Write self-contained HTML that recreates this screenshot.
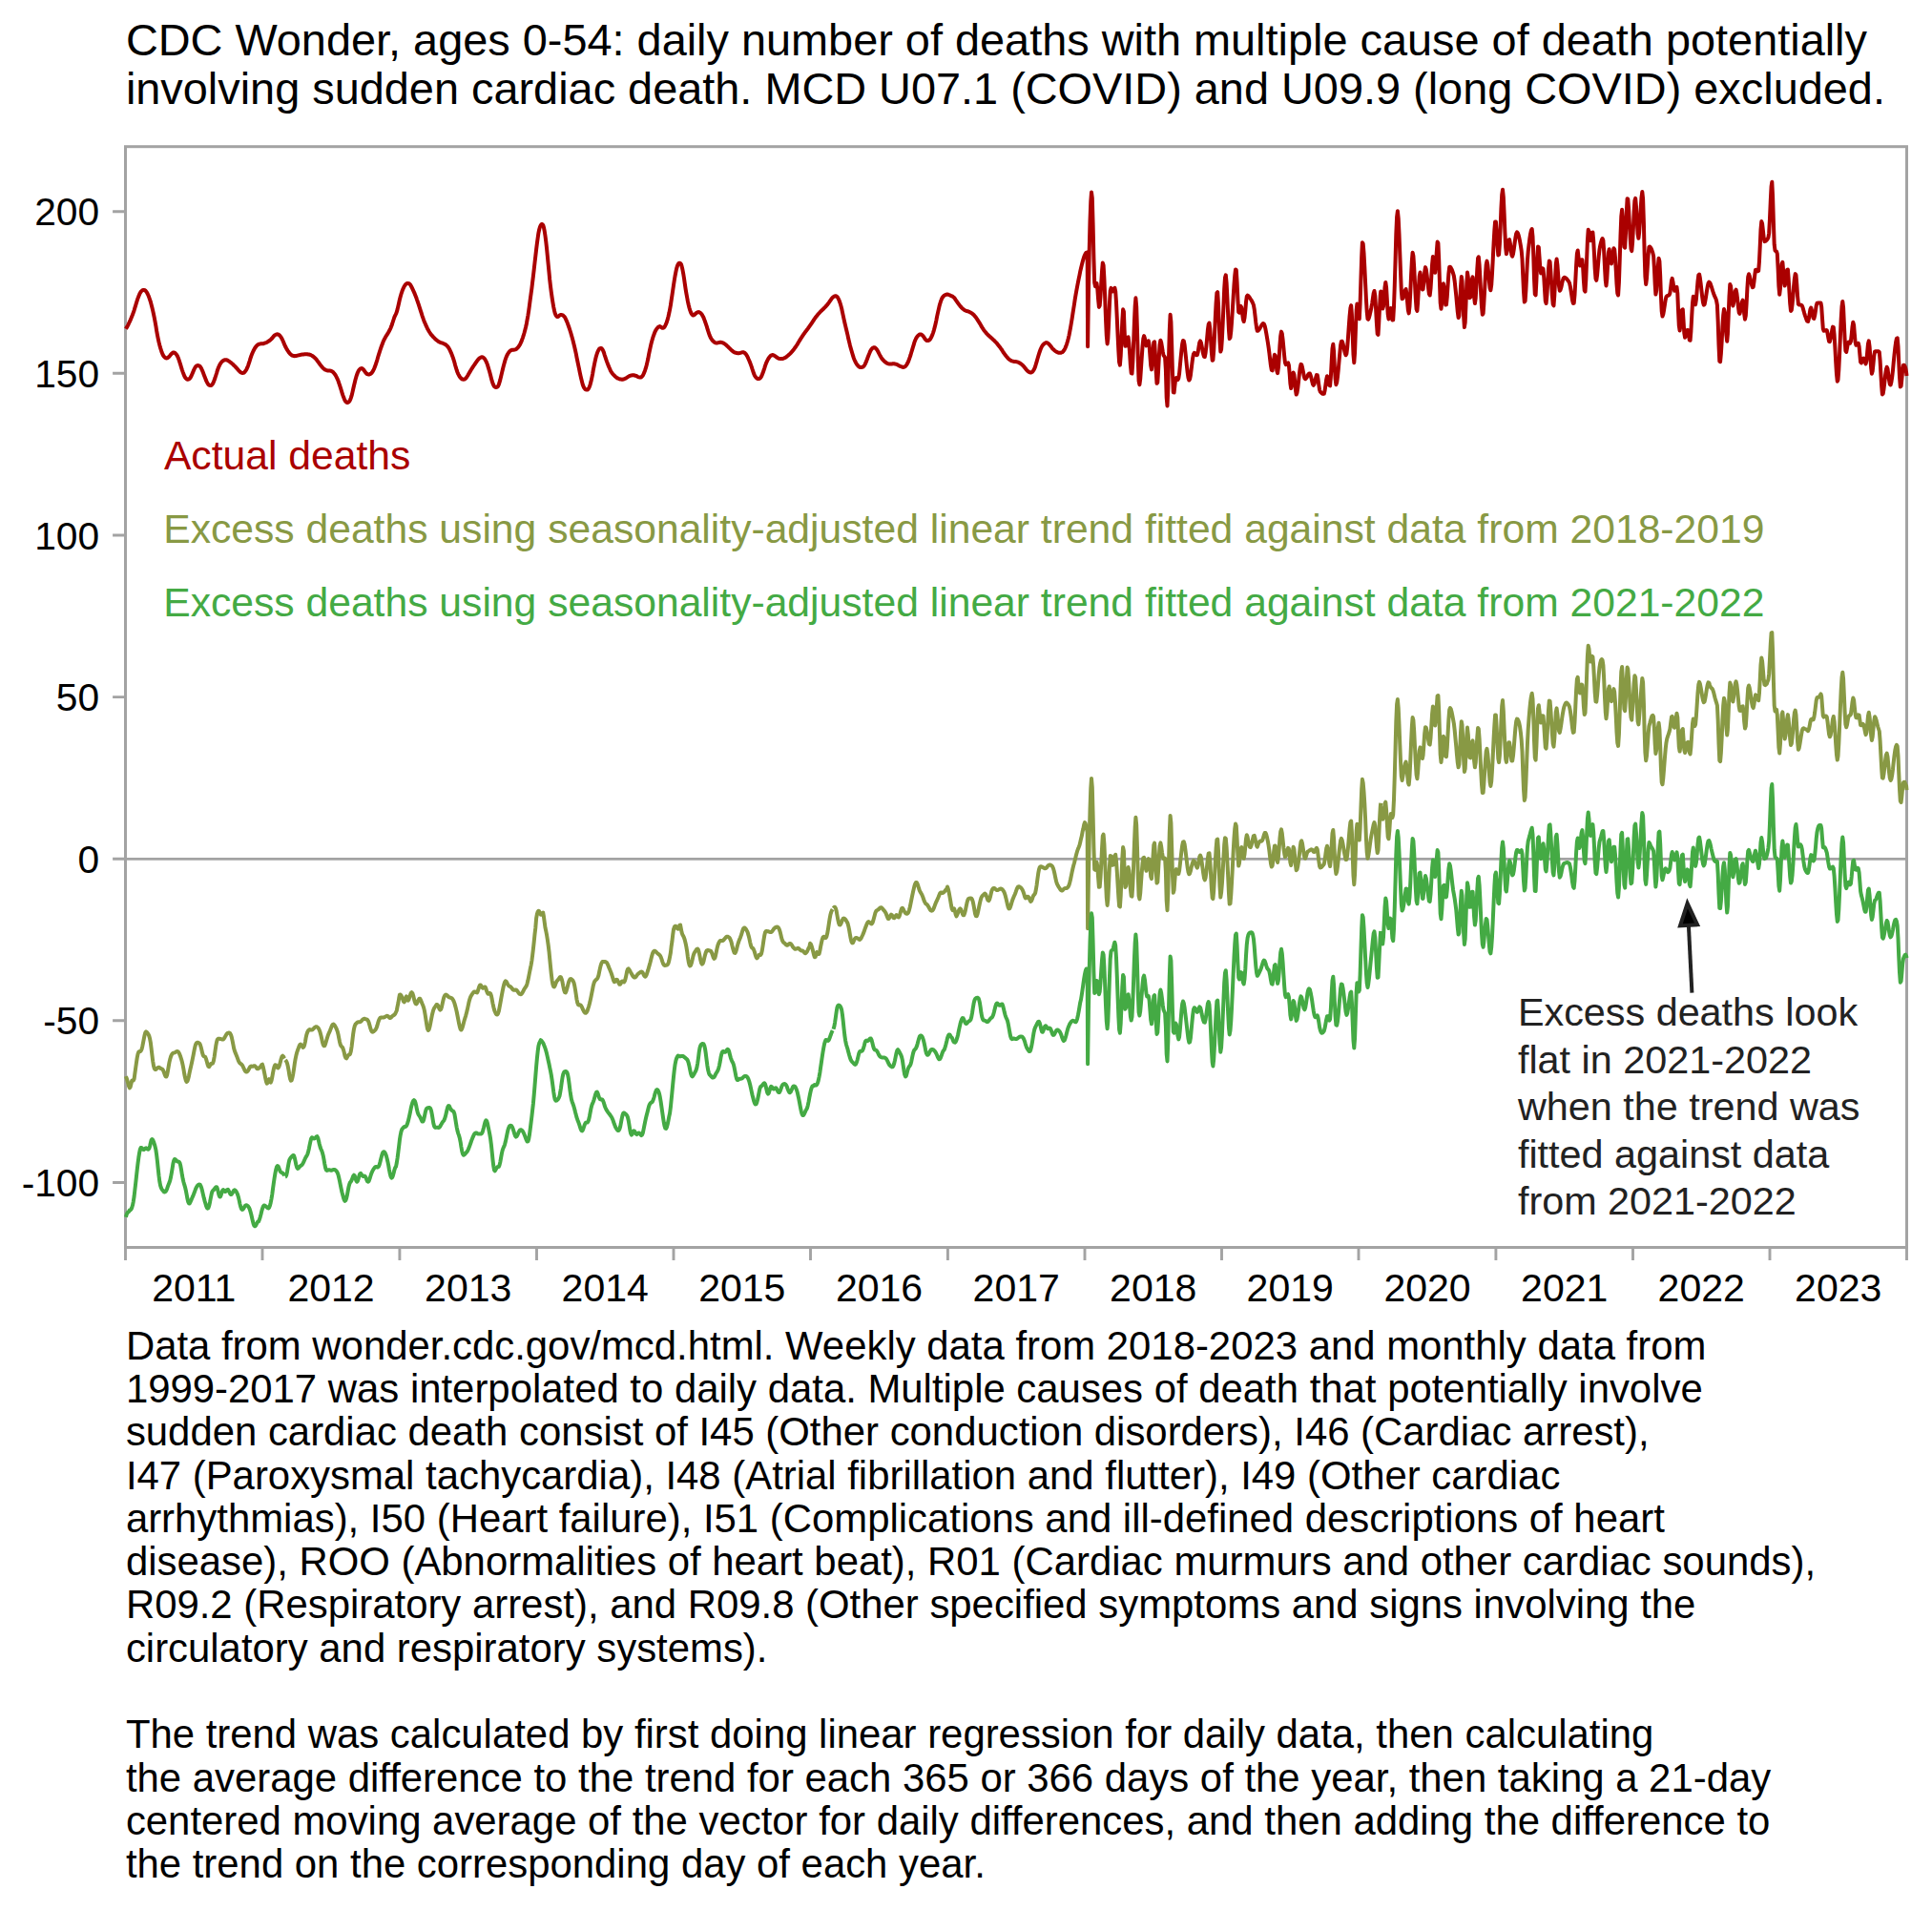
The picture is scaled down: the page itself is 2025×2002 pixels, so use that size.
<!DOCTYPE html>
<html lang="en"><head><meta charset="utf-8"><title>CDC Wonder sudden cardiac death chart</title><style>html,body{margin:0;padding:0;background:#fff}</style></head><body>
<svg width="2025" height="2002" viewBox="0 0 2025 2002" style="display:block;font-family:'Liberation Sans',Arial,Helvetica,sans-serif">
<rect width="2025" height="2002" fill="#fff"/>
<g font-size="46.86" fill="#000"><text x="131.9" y="58.4">CDC Wonder, ages 0-54: daily number of deaths with multiple cause of death potentially</text>
<text x="131.9" y="108.6">involving sudden cardiac death. MCD U07.1 (COVID) and U09.9 (long COVID) excluded.</text></g>
<line x1="131.5" x2="1998.5" y1="900.3" y2="900.3" stroke="#a3a3a3" stroke-width="2.8"/>
<rect x="131.5" y="153.7" width="1867.0" height="1153.8" fill="none" stroke="#a3a3a3" stroke-width="3"/>
<path d="M131.9 344.7L132.7 343.4L133.5 342.1L134.3 340.6L135.0 339.0L135.8 337.3L136.6 335.6L137.4 333.7L138.2 331.8L139.0 329.8L139.8 327.6L140.6 325.3L141.3 322.9L142.1 320.3L142.9 317.7L143.7 315.1L144.5 312.7L145.3 310.6L146.1 308.7L146.8 307.2L147.6 305.9L148.4 305.0L149.2 304.4L150.0 304.0L150.8 303.9L151.6 304.1L152.3 304.5L153.1 305.3L153.9 306.5L154.7 308.0L155.5 309.8L156.3 311.8L157.1 314.1L157.9 316.5L158.6 319.3L159.4 322.3L160.2 325.6L161.0 329.2L161.8 333.2L162.6 337.4L163.4 341.8L164.1 346.4L164.9 350.9L165.7 354.9L166.5 358.5L167.3 361.7L168.1 364.6L168.9 367.1L169.6 369.3L170.4 371.2L171.2 372.7L172.0 373.8L172.8 374.6L173.6 375.2L174.4 375.4L175.2 375.3L175.9 375.0L176.7 374.3L177.5 373.5L178.3 372.6L179.1 371.6L179.9 370.7L180.7 370.0L181.4 369.6L182.2 369.5L183.0 369.7L183.8 370.3L184.6 371.1L185.4 372.3L186.2 373.8L187.0 375.6L187.7 377.7L188.5 380.2L189.3 382.7L190.1 385.3L190.9 387.8L191.7 390.1L192.5 392.2L193.2 394.0L194.0 395.5L194.8 396.6L195.6 397.3L196.4 397.7L197.2 397.7L198.0 397.4L198.7 396.9L199.5 396.0L200.3 394.6L201.1 392.8L201.9 390.9L202.7 388.9L203.5 387.1L204.3 385.6L205.0 384.4L205.8 383.6L206.6 383.2L207.4 383.1L208.2 383.2L209.0 383.6L209.8 384.2L210.5 385.3L211.3 386.8L212.1 388.6L212.9 390.6L213.7 392.7L214.5 394.8L215.3 396.8L216.0 398.7L216.8 400.4L217.6 401.9L218.4 403.0L219.2 403.7L220.0 404.0L220.8 404.1L221.6 403.8L222.3 403.1L223.1 402.0L223.9 400.4L224.7 398.3L225.5 396.0L226.3 393.5L227.1 391.0L227.8 388.5L228.6 386.3L229.4 384.3L230.2 382.6L231.0 381.2L231.8 380.0L232.6 379.1L233.4 378.4L234.1 377.9L234.9 377.5L235.7 377.3L236.5 377.2L237.3 377.3L238.1 377.5L238.9 377.9L239.6 378.4L240.4 378.9L241.2 379.5L242.0 380.1L242.8 380.7L243.6 381.4L244.4 382.1L245.1 382.9L245.9 383.6L246.7 384.4L247.5 385.3L248.3 386.2L249.1 387.1L249.9 388.1L250.7 388.9L251.4 389.6L252.2 390.2L253.0 390.6L253.8 390.9L254.6 390.9L255.4 390.7L256.2 390.2L256.9 389.4L257.7 388.3L258.5 386.9L259.3 385.2L260.1 383.1L260.9 380.7L261.7 378.3L262.4 375.9L263.2 373.5L264.0 371.4L264.8 369.5L265.6 367.7L266.4 366.2L267.2 364.8L268.0 363.7L268.7 362.7L269.5 362.0L270.3 361.3L271.1 360.9L271.9 360.6L272.7 360.4L273.5 360.3L274.2 360.3L275.0 360.3L275.8 360.2L276.6 360.0L277.4 359.7L278.2 359.4L279.0 359.1L279.8 358.7L280.5 358.3L281.3 357.8L282.1 357.3L282.9 356.7L283.7 356.0L284.5 355.3L285.3 354.4L286.0 353.5L286.8 352.5L287.6 351.7L288.4 351.1L289.2 350.6L290.0 350.4L290.8 350.3L291.5 350.5L292.3 350.9L293.1 351.6L293.9 352.5L294.7 353.7L295.5 355.1L296.3 356.7L297.1 358.5L297.8 360.4L298.2 361.3L298.6 362.2L299.0 363.0L299.4 363.8L300.2 365.3L301.0 366.7L301.8 367.9L302.6 369.0L303.3 370.0L304.1 370.9L304.9 371.6L305.7 372.2L306.5 372.7L307.3 373.0L308.1 373.1L308.8 373.2L309.6 373.1L310.4 372.9L311.2 372.8L312.0 372.6L312.8 372.4L313.6 372.2L314.4 372.0L315.1 371.8L315.9 371.7L316.7 371.6L317.5 371.5L318.3 371.4L319.1 371.3L319.9 371.3L320.6 371.2L321.4 371.3L322.2 371.3L323.0 371.4L323.8 371.5L324.6 371.7L325.4 371.9L326.1 372.3L326.9 372.7L327.7 373.2L328.5 373.8L329.3 374.5L330.1 375.2L330.9 376.0L331.7 376.9L332.4 377.9L333.2 378.9L334.0 380.0L334.8 381.1L335.6 382.2L336.4 383.2L337.2 384.2L337.9 385.1L338.7 385.9L339.5 386.6L340.3 387.2L341.1 387.7L341.9 388.0L342.7 388.3L343.5 388.4L344.2 388.5L345.0 388.5L345.8 388.6L346.6 388.7L347.4 389.0L348.2 389.4L349.0 389.9L349.7 390.7L350.5 391.6L351.3 392.7L352.1 394.1L352.9 395.6L353.7 397.3L354.5 399.2L355.2 401.3L356.0 403.6L356.8 406.1L357.6 408.7L358.4 411.4L359.2 413.9L360.0 416.1L360.8 418.1L361.5 419.6L362.3 420.8L363.1 421.6L363.9 422.0L364.7 421.9L365.5 421.4L366.3 420.5L367.0 419.1L367.8 417.2L368.6 414.7L369.4 411.4L370.2 407.8L371.0 404.2L371.8 401.0L372.5 398.0L373.3 395.2L374.1 392.7L374.9 390.5L375.7 388.8L376.5 387.6L377.3 386.8L378.1 386.3L378.8 386.1L379.6 386.2L380.4 386.8L381.2 387.7L382.0 388.8L382.8 390.0L383.6 391.0L384.3 391.7L385.1 392.2L385.9 392.5L386.7 392.5L387.5 392.3L388.3 391.9L389.1 391.3L389.9 390.5L390.6 389.4L391.4 388.0L392.2 386.3L393.0 384.2L393.8 382.0L394.6 379.6L395.4 377.1L396.1 374.5L396.9 371.9L397.7 369.3L398.5 366.8L399.3 364.5L400.1 362.3L400.9 360.2L401.6 358.3L402.4 356.5L403.2 354.9L404.0 353.5L404.8 352.1L405.6 350.9L406.4 349.6L407.2 348.3L407.9 347.0L408.7 345.5L409.5 343.8L410.3 341.8L411.1 339.5L411.9 337.0L412.7 334.5L413.4 332.3L414.2 330.6L415.0 329.1L415.8 327.0L416.6 324.1L417.4 320.8L418.2 317.3L418.9 314.0L419.7 310.9L420.5 308.2L421.3 305.8L422.1 303.6L422.9 301.8L423.7 300.2L424.5 299.0L425.2 298.1L426.0 297.4L426.8 297.0L427.6 296.9L428.4 297.1L429.2 297.5L430.0 298.4L430.7 299.5L431.5 301.0L432.3 302.6L433.1 304.3L433.9 306.1L434.7 307.9L435.5 309.9L436.3 311.9L437.0 314.1L437.8 316.3L438.6 318.7L439.4 321.1L440.2 323.6L441.0 326.1L441.8 328.5L442.5 330.9L443.3 333.2L444.1 335.4L444.9 337.4L445.7 339.3L446.5 341.1L447.3 342.8L448.0 344.4L448.8 345.8L449.6 347.2L450.4 348.5L451.2 349.7L452.0 350.8L452.8 351.7L453.6 352.6L454.3 353.4L455.1 354.2L455.9 355.0L456.7 355.7L457.5 356.4L458.3 357.0L459.1 357.6L459.8 358.1L460.6 358.5L461.4 358.9L462.2 359.2L463.0 359.4L463.8 359.7L464.6 360.0L465.3 360.3L466.1 360.7L466.9 361.1L467.7 361.7L468.5 362.4L469.3 363.3L470.1 364.4L470.9 365.7L471.6 367.1L472.4 368.8L473.2 370.6L474.0 372.7L474.8 374.9L475.6 377.4L476.4 380.0L477.1 382.7L477.9 385.4L478.7 388.0L479.5 390.2L480.3 392.1L481.1 393.6L481.9 394.9L482.7 395.9L483.4 396.7L484.2 397.3L485.0 397.6L485.8 397.7L486.6 397.6L487.4 397.2L488.2 396.6L488.9 395.7L489.7 394.5L490.5 393.2L491.3 391.8L492.1 390.4L492.9 389.1L493.7 387.8L494.4 386.6L495.2 385.4L496.0 384.2L496.8 383.0L497.6 381.8L498.4 380.6L499.2 379.5L500.0 378.4L500.7 377.4L501.5 376.5L502.3 375.7L503.1 375.1L503.9 374.6L504.7 374.3L505.5 374.3L506.2 374.5L507.0 375.1L507.8 375.9L508.6 377.1L509.4 378.6L510.2 380.4L511.0 382.5L511.7 384.9L512.5 387.5L513.3 390.3L514.1 393.3L514.9 396.4L515.7 399.4L516.5 401.9L517.3 403.7L518.0 404.9L518.8 405.6L519.6 406.0L520.4 406.0L521.2 405.7L522.0 404.8L522.8 403.2L523.5 400.9L524.3 398.1L525.1 394.8L525.9 391.4L526.7 388.0L527.5 384.7L528.3 381.7L529.1 378.9L529.8 376.5L530.6 374.4L531.4 372.5L532.2 371.0L533.0 369.7L533.8 368.7L534.6 367.9L535.3 367.4L536.1 367.0L536.9 366.8L537.7 366.7L538.5 366.7L539.3 366.6L540.1 366.4L540.8 366.0L541.6 365.5L542.4 364.7L543.2 363.8L544.0 362.8L544.8 361.5L545.6 359.9L546.4 358.2L547.1 356.3L547.9 354.1L548.7 351.7L549.5 349.0L550.3 346.0L551.1 342.8L551.9 339.2L552.6 335.2L553.4 330.8L554.2 325.6L555.0 319.7L555.8 313.6L556.6 307.7L557.4 301.9L558.1 296.0L558.9 289.5L559.7 282.6L560.5 275.4L561.3 268.4L562.1 261.5L562.9 255.1L563.7 249.2L564.4 244.3L565.2 240.5L566.0 237.8L566.8 236.0L567.6 235.1L568.4 235.1L569.2 235.9L569.9 238.2L570.7 242.0L571.5 247.2L572.3 253.5L573.1 260.8L573.9 269.0L574.7 277.4L575.5 285.5L576.2 293.0L577.0 299.9L577.8 306.2L578.6 311.9L579.4 317.0L580.2 321.6L581.0 325.5L581.7 328.3L582.5 330.3L583.3 331.5L584.1 332.0L584.9 331.9L585.7 331.3L586.5 330.6L587.2 330.2L588.0 329.9L588.8 330.0L589.6 330.3L590.4 330.8L591.2 331.6L592.0 332.6L592.8 334.0L593.5 335.6L594.3 337.4L595.1 339.5L595.9 341.7L596.7 344.0L597.5 346.5L598.3 349.0L599.0 351.5L599.8 354.3L600.6 357.2L601.4 360.4L602.2 363.7L603.0 367.2L603.8 370.9L604.5 374.6L605.3 378.5L606.1 382.4L606.9 386.2L607.7 390.1L608.5 393.8L609.3 397.3L610.1 400.5L610.8 403.2L611.6 405.3L612.4 406.8L613.2 407.8L614.0 408.4L614.8 408.6L615.6 408.5L616.3 408.0L617.1 407.0L617.9 405.2L618.7 402.8L619.5 399.8L620.3 396.1L621.1 392.1L621.8 387.9L622.6 383.8L623.4 379.8L624.2 376.2L625.0 373.1L625.8 370.5L626.6 368.4L627.4 366.8L628.1 365.7L628.9 365.1L629.7 364.9L630.5 365.2L631.3 366.1L632.1 367.5L632.9 369.4L633.6 371.8L634.4 374.2L635.2 376.6L636.0 378.9L636.8 381.0L637.6 383.1L638.4 385.0L639.2 386.8L639.9 388.4L640.7 389.8L641.5 391.0L642.3 392.0L643.1 392.9L643.9 393.7L644.7 394.5L645.4 395.1L646.2 395.7L647.0 396.2L647.8 396.7L648.6 397.0L649.4 397.3L650.2 397.5L650.9 397.6L651.7 397.7L652.5 397.7L653.3 397.5L654.1 397.3L654.9 397.0L655.7 396.6L656.5 396.1L657.2 395.6L658.0 395.1L658.8 394.6L659.6 394.1L660.4 393.8L661.2 393.5L662.0 393.4L662.7 393.3L663.5 393.3L664.3 393.3L665.1 393.5L665.9 393.7L666.7 393.9L667.5 394.3L668.2 394.7L669.0 395.1L669.8 395.4L670.6 395.6L671.4 395.6L672.2 395.2L673.0 394.5L673.8 393.5L674.5 392.1L675.3 390.4L676.1 388.2L676.9 385.7L677.7 382.7L678.5 379.4L679.3 375.8L680.0 371.9L680.8 368.0L681.6 364.3L682.4 360.8L683.2 357.7L684.0 354.9L684.8 352.4L685.6 350.2L686.3 348.3L687.1 346.6L687.9 345.3L688.7 344.1L689.5 343.3L690.3 342.6L691.1 342.2L691.8 342.1L692.6 342.6L693.4 343.3L694.2 343.8L695.0 343.8L695.8 343.4L696.6 342.4L697.3 341.2L698.1 339.6L698.9 337.5L699.7 334.9L700.5 331.8L701.3 328.3L702.1 324.3L702.9 319.9L703.6 315.1L704.4 309.9L705.2 304.5L706.0 299.0L706.8 293.8L707.6 289.0L708.4 284.9L709.1 281.6L709.9 278.9L710.7 277.0L711.5 276.0L712.3 275.8L713.1 275.9L713.9 276.9L714.6 279.1L715.4 282.5L716.2 286.8L717.0 291.8L717.8 297.4L718.6 302.9L719.4 307.7L720.2 312.0L720.9 315.9L721.7 319.5L722.5 322.7L723.3 325.4L724.1 327.5L724.9 329.1L725.7 330.1L726.4 330.5L727.2 330.3L728.0 329.8L728.8 329.0L729.6 328.2L730.4 327.7L731.2 327.3L732.0 327.1L732.7 327.2L733.5 327.5L734.3 328.1L735.1 328.9L735.9 330.0L736.7 331.4L737.5 333.0L738.2 334.9L739.0 337.0L739.8 339.3L740.6 341.7L741.4 344.3L742.2 346.9L743.0 349.3L743.7 351.4L744.5 353.2L745.3 354.7L746.1 356.0L746.9 357.0L747.7 357.8L748.5 358.5L749.3 359.0L750.0 359.3L750.8 359.4L751.6 359.4L752.4 359.3L753.2 359.1L754.0 358.9L754.8 358.8L755.5 358.8L756.3 358.9L757.1 359.1L757.9 359.5L758.7 359.9L759.5 360.4L760.3 361.0L761.0 361.6L761.8 362.3L762.6 363.1L763.4 363.8L764.2 364.6L765.0 365.4L765.8 366.2L766.6 366.9L767.3 367.6L768.1 368.2L768.9 368.7L769.7 369.2L770.5 369.6L771.3 369.8L772.1 370.0L772.8 370.2L773.6 370.2L774.4 370.2L775.2 370.1L776.0 369.9L776.8 369.6L777.6 369.4L778.4 369.2L779.1 369.2L779.9 369.5L780.7 370.0L781.5 370.8L782.3 371.9L783.1 373.2L783.9 374.8L784.6 376.5L785.4 378.3L786.2 380.3L787.0 382.4L787.8 384.7L788.6 387.2L789.4 389.5L790.1 391.6L790.9 393.4L791.7 394.8L792.5 395.8L793.3 396.5L794.1 396.9L794.9 397.0L795.7 396.9L796.4 396.6L797.2 395.8L798.0 394.6L798.8 392.9L799.6 390.8L800.4 388.5L801.2 386.1L801.9 383.8L802.7 381.6L803.5 379.6L804.3 377.9L805.1 376.4L805.9 375.1L806.7 374.0L807.4 373.2L808.2 372.6L809.0 372.2L809.8 372.1L810.6 372.2L811.4 372.6L812.2 373.1L813.0 373.7L813.7 374.3L814.5 374.8L815.3 375.3L816.1 375.7L816.9 375.9L817.7 376.1L818.5 376.1L819.2 376.1L820.0 376.0L820.8 375.8L821.6 375.5L822.4 375.1L823.2 374.7L824.0 374.2L824.8 373.6L825.5 373.0L826.3 372.4L827.1 371.6L827.9 370.9L828.7 370.1L829.5 369.2L830.3 368.3L831.0 367.4L831.8 366.4L832.6 365.4L833.4 364.3L834.2 363.2L835.0 362.0L835.8 360.8L836.5 359.5L837.3 358.2L838.1 356.9L838.9 355.6L839.7 354.3L840.5 353.1L841.3 351.9L842.1 350.8L842.8 349.7L843.6 348.6L844.4 347.5L845.2 346.5L846.0 345.4L846.8 344.4L847.6 343.3L848.3 342.2L849.1 341.1L849.9 340.0L850.7 338.8L851.5 337.6L852.3 336.4L853.1 335.3L853.8 334.1L854.6 333.0L855.4 331.9L856.2 330.9L857.0 329.9L857.8 329.0L858.6 328.1L859.4 327.3L860.1 326.5L860.9 325.8L861.7 325.0L862.5 324.3L863.3 323.5L864.1 322.7L864.9 321.9L865.6 321.1L866.4 320.2L867.2 319.3L868.0 318.2L868.8 317.2L869.6 316.0L870.4 314.9L871.2 313.8L871.9 312.7L872.7 311.9L873.1 311.5L873.5 311.1L874.3 310.6L875.1 310.3L875.9 310.3L876.7 310.5L877.4 311.1L878.2 312.1L879.0 313.6L879.8 315.5L880.6 317.8L881.4 320.5L882.2 323.5L882.9 326.9L883.7 330.6L884.5 334.3L885.3 338.0L886.1 341.4L886.9 344.7L887.7 348.0L888.5 351.4L889.2 354.8L890.0 358.1L890.8 361.4L891.6 364.4L892.4 367.3L893.2 370.0L894.0 372.6L894.7 374.9L895.5 377.0L896.3 378.8L897.1 380.3L897.9 381.6L898.7 382.7L899.5 383.6L900.2 384.3L901.0 384.8L901.8 385.0L902.6 385.1L903.4 385.0L904.2 384.7L905.0 384.2L905.8 383.4L906.5 382.1L907.3 380.5L908.1 378.6L908.9 376.5L909.7 374.3L910.5 372.2L911.3 370.3L912.0 368.5L912.8 367.0L913.6 365.9L914.4 365.0L915.2 364.5L916.0 364.2L916.8 364.3L917.5 364.7L918.3 365.4L919.1 366.5L919.9 367.8L920.7 369.3L921.5 370.9L922.3 372.4L923.1 373.8L923.8 375.1L924.6 376.2L925.4 377.1L926.2 378.0L927.0 378.7L927.8 379.4L928.6 380.0L929.3 380.5L930.1 380.9L930.9 381.2L931.7 381.4L932.5 381.5L933.3 381.5L934.1 381.4L934.9 381.4L935.6 381.3L936.4 381.3L937.2 381.3L938.0 381.4L938.8 381.6L939.6 381.9L940.4 382.2L941.1 382.6L941.9 383.1L942.7 383.5L943.5 383.9L944.3 384.2L945.1 384.5L945.9 384.7L946.6 384.9L947.4 384.8L948.2 384.5L949.0 383.9L949.8 383.0L950.6 381.8L951.4 380.3L952.2 378.6L952.9 376.6L953.7 374.4L954.5 372.0L955.3 369.3L956.1 366.6L956.9 363.9L957.7 361.3L958.4 358.9L959.2 356.8L960.0 355.0L960.8 353.6L961.6 352.5L962.4 351.6L963.2 351.0L963.9 350.6L964.7 350.5L965.5 350.6L966.3 351.0L967.1 351.7L967.9 352.7L968.7 353.9L969.5 355.2L970.2 356.1L971.0 356.8L971.8 357.1L972.6 357.1L973.4 356.8L974.2 356.3L975.0 355.4L975.7 354.2L976.5 352.7L977.3 350.9L978.1 348.6L978.9 346.1L979.7 343.1L980.5 339.7L981.3 336.1L982.0 332.4L982.8 328.7L983.6 325.1L984.4 321.6L985.2 318.6L986.0 316.0L986.8 313.9L987.5 312.3L988.3 311.2L989.1 310.3L989.9 309.6L990.7 309.1L991.5 308.8L992.3 308.6L993.0 308.6L993.8 308.7L994.6 309.0L995.4 309.3L996.2 309.7L997.0 310.1L997.8 310.4L998.6 310.8L999.3 311.4L1000.1 312.1L1000.9 313.1L1001.7 314.3L1002.5 315.5L1003.3 316.6L1004.1 317.7L1004.8 318.8L1005.6 319.8L1006.4 320.8L1007.2 321.7L1008.0 322.6L1008.8 323.4L1009.6 324.0L1010.3 324.6L1011.1 325.1L1011.9 325.5L1012.7 325.8L1013.5 326.1L1014.3 326.3L1015.1 326.5L1015.9 326.8L1016.6 327.2L1017.4 327.6L1018.2 328.1L1019.0 328.7L1019.8 329.3L1020.6 330.0L1021.4 330.8L1022.1 331.8L1022.9 332.8L1023.7 333.9L1024.5 335.1L1025.3 336.4L1026.1 337.6L1026.9 338.9L1027.7 340.2L1028.4 341.6L1029.2 342.9L1030.0 344.2L1030.8 345.4L1031.6 346.5L1032.4 347.5L1033.2 348.4L1033.9 349.3L1034.7 350.2L1035.5 351.0L1036.3 351.7L1037.1 352.5L1037.9 353.2L1038.7 353.8L1039.4 354.5L1040.2 355.2L1041.0 356.0L1041.8 356.7L1042.6 357.5L1043.4 358.4L1044.2 359.2L1045.0 360.0L1045.7 360.9L1046.5 361.9L1047.3 362.9L1048.1 363.9L1048.9 365.1L1049.7 366.2L1050.5 367.4L1051.2 368.6L1052.0 369.8L1052.8 370.9L1053.6 372.0L1054.4 373.0L1055.2 374.0L1056.0 374.9L1056.7 375.7L1057.5 376.4L1058.3 377.1L1059.1 377.6L1059.9 378.1L1060.7 378.4L1061.5 378.6L1062.3 378.8L1063.0 378.9L1063.8 379.0L1064.6 379.1L1065.4 379.2L1066.2 379.4L1067.0 379.6L1067.8 380.0L1068.5 380.4L1069.3 380.8L1070.1 381.4L1070.9 382.0L1071.7 382.7L1072.5 383.5L1073.3 384.4L1074.1 385.3L1074.8 386.3L1075.6 387.3L1076.4 388.2L1077.2 389.0L1078.0 389.6L1078.8 390.0L1079.6 390.4L1080.3 390.6L1081.1 390.4L1081.9 389.9L1082.7 389.0L1083.5 387.7L1084.3 386.2L1085.1 384.2L1085.8 381.8L1086.6 379.1L1087.4 376.3L1088.2 373.5L1089.0 370.9L1089.8 368.5L1090.6 366.3L1091.4 364.5L1092.1 363.0L1092.9 361.8L1093.7 360.9L1094.5 360.2L1095.3 359.7L1096.1 359.3L1096.9 359.1L1097.6 359.3L1098.4 359.7L1099.2 360.4L1100.0 361.3L1100.8 362.3L1101.6 363.3L1102.4 364.3L1103.1 365.3L1103.9 366.1L1104.7 366.8L1105.5 367.5L1106.3 368.1L1107.1 368.6L1107.9 369.0L1108.7 369.4L1109.4 369.7L1110.2 369.8L1111.0 369.8L1111.8 369.8L1112.6 369.5L1113.4 369.2L1114.2 368.5L1114.9 367.6L1115.7 366.4L1116.5 364.8L1117.3 362.9L1118.1 360.6L1118.9 358.0L1119.7 355.0L1120.5 351.6L1121.2 347.8L1122.0 343.6L1122.8 339.0L1123.6 334.1L1124.4 328.9L1125.2 323.8L1126.0 318.8L1126.7 313.9L1127.5 309.1L1128.3 304.6L1129.1 300.3L1129.9 296.1L1130.7 292.1L1131.5 288.3L1132.2 284.6L1133.0 281.2L1133.8 277.9L1134.6 274.7L1135.4 271.9L1136.2 269.3L1137.0 267.3L1137.8 265.7L1138.5 264.8L1139.3 264.5L1139.7 264.5L1140.1 363.2L1140.9 308.1L1141.7 264.4L1142.5 232.2L1143.3 211.2L1144.0 201.6L1144.8 207.5L1145.6 235.4L1146.4 270.6L1147.2 296.3L1148.0 300.1L1148.8 298.3L1149.5 297.1L1150.3 302.6L1151.1 313.6L1151.9 321.9L1152.7 320.4L1153.5 310.3L1154.3 296.4L1155.1 283.3L1155.8 275.5L1156.6 278.0L1157.4 292.0L1158.2 312.4L1159.0 334.1L1159.8 351.9L1160.6 360.4L1161.3 355.2L1162.1 339.0L1162.9 319.7L1163.7 305.1L1164.5 301.9L1165.3 303.7L1166.1 305.5L1166.9 305.1L1167.6 303.1L1168.4 301.8L1169.2 305.4L1170.0 317.2L1170.8 333.8L1171.6 351.9L1172.4 368.3L1173.1 379.7L1173.9 382.6L1174.7 372.9L1175.5 355.3L1176.3 336.7L1177.1 324.3L1177.9 326.6L1178.6 346.0L1179.4 362.7L1180.2 362.6L1181.0 358.1L1181.8 353.8L1182.6 353.4L1183.4 360.3L1184.2 371.4L1184.9 382.9L1185.7 391.1L1186.5 391.5L1187.3 379.8L1188.1 360.2L1188.9 338.5L1189.7 320.6L1190.4 312.3L1191.2 321.7L1192.0 347.4L1192.8 377.4L1193.6 399.4L1194.4 403.2L1195.2 397.3L1195.9 387.1L1196.7 375.0L1197.5 363.5L1198.3 355.1L1199.1 352.1L1199.9 354.7L1200.7 359.3L1201.5 362.4L1202.2 361.7L1203.0 359.1L1203.8 357.4L1204.6 361.8L1205.4 372.5L1206.2 383.2L1207.0 387.4L1207.7 380.9L1208.5 368.8L1209.3 358.7L1210.1 358.3L1210.9 371.3L1211.7 389.1L1212.5 401.8L1213.3 400.9L1214.0 389.6L1214.8 374.4L1215.6 361.4L1216.4 356.7L1217.2 359.1L1218.0 363.8L1218.8 368.9L1219.5 372.3L1220.3 373.5L1221.1 374.6L1221.9 388.0L1222.7 416.9L1223.5 425.6L1224.3 407.2L1225.0 376.6L1225.8 346.5L1226.6 329.8L1227.4 337.2L1228.2 362.6L1229.0 391.8L1229.8 411.2L1230.6 411.4L1231.3 404.7L1232.1 397.9L1232.9 396.0L1233.7 397.0L1234.5 397.9L1235.3 396.5L1236.1 391.4L1236.8 383.9L1237.6 375.3L1238.4 367.1L1239.2 360.5L1240.0 357.0L1240.8 357.5L1241.6 361.5L1242.3 367.9L1243.1 375.6L1243.9 383.5L1244.7 390.7L1245.5 396.1L1246.3 398.5L1247.1 397.4L1247.9 393.3L1248.6 387.4L1249.4 381.0L1250.2 375.1L1251.0 371.0L1251.8 369.8L1252.6 370.4L1253.4 371.4L1254.1 372.2L1254.9 372.1L1255.7 368.7L1256.5 363.5L1257.3 358.9L1258.1 357.4L1258.9 359.2L1259.6 362.7L1260.4 367.1L1261.2 371.1L1262.0 373.8L1262.8 374.0L1263.6 369.9L1264.4 362.6L1265.2 353.9L1265.9 345.8L1266.7 340.0L1267.5 338.6L1268.3 345.1L1269.1 357.0L1269.9 369.5L1270.7 377.8L1271.4 377.3L1272.2 367.4L1273.0 351.6L1273.8 333.7L1274.6 317.6L1275.4 307.1L1276.2 306.2L1277.0 318.6L1277.7 338.2L1278.5 357.3L1279.3 368.5L1280.1 366.3L1280.9 355.0L1281.7 338.3L1282.5 319.7L1283.2 302.8L1284.0 291.1L1284.8 288.3L1285.6 296.6L1286.4 312.3L1287.2 330.5L1288.0 346.4L1288.7 355.0L1289.5 353.7L1290.3 347.1L1291.1 336.6L1291.9 324.0L1292.7 310.8L1293.5 298.4L1294.3 288.4L1295.0 282.5L1295.8 283.0L1296.6 296.0L1297.4 314.1L1298.2 327.1L1299.0 327.7L1299.8 323.9L1300.5 320.9L1301.3 322.5L1302.1 328.4L1302.9 334.6L1303.7 337.0L1304.5 333.2L1305.3 325.4L1306.0 316.8L1306.8 310.7L1307.6 309.6L1308.4 310.2L1309.2 311.1L1310.0 312.2L1310.8 313.5L1311.6 314.7L1312.3 316.0L1313.1 317.6L1313.9 319.7L1314.7 324.1L1315.5 330.8L1316.3 337.9L1317.1 343.8L1317.8 346.8L1318.6 346.7L1319.4 345.9L1320.2 344.7L1321.0 343.3L1321.8 341.8L1322.6 340.5L1323.4 339.5L1324.1 339.0L1324.9 339.6L1325.7 341.8L1326.5 345.3L1327.3 349.6L1328.1 354.4L1328.9 359.3L1329.6 363.9L1330.4 369.9L1331.2 377.0L1332.0 383.5L1332.8 387.9L1333.6 388.3L1334.4 383.5L1335.1 376.7L1335.9 371.8L1336.7 372.6L1337.5 380.3L1338.3 388.6L1339.1 391.2L1339.9 385.5L1340.7 374.8L1341.4 362.6L1342.2 352.4L1343.0 347.6L1343.8 349.8L1344.6 356.2L1345.4 364.8L1346.2 373.4L1346.9 379.9L1347.7 382.2L1348.5 381.7L1349.3 380.9L1350.1 380.3L1350.9 382.9L1351.7 391.9L1352.4 401.9L1353.2 407.1L1354.0 403.6L1354.8 395.9L1355.6 390.4L1356.4 392.5L1357.2 400.4L1358.0 409.1L1358.7 413.6L1359.5 411.8L1360.3 406.5L1361.1 399.4L1361.9 391.9L1362.7 385.6L1363.5 381.9L1364.2 382.1L1365.0 385.0L1365.8 389.2L1366.6 393.4L1367.4 396.5L1368.2 397.2L1369.0 396.5L1369.8 395.3L1370.5 393.8L1371.3 392.4L1372.1 391.5L1372.9 391.6L1373.7 393.5L1374.5 396.6L1375.3 400.0L1376.0 402.7L1376.8 403.8L1377.6 402.5L1378.4 399.3L1379.2 395.7L1380.0 393.1L1380.8 393.3L1381.5 397.4L1382.3 403.4L1383.1 408.6L1383.9 410.7L1384.7 411.5L1385.5 412.2L1386.3 412.7L1387.1 412.9L1387.8 412.7L1388.6 409.3L1389.4 403.6L1390.2 397.8L1391.0 394.3L1391.8 395.1L1392.6 399.5L1393.3 403.9L1394.1 404.4L1394.9 394.5L1395.7 379.0L1396.5 365.3L1397.3 360.8L1398.1 368.8L1398.8 383.2L1399.6 397.0L1400.4 403.2L1401.2 400.9L1402.0 395.1L1402.8 387.0L1403.6 377.9L1404.4 369.1L1405.1 362.0L1405.9 357.9L1406.7 357.7L1407.5 359.9L1408.3 363.3L1409.1 367.2L1409.9 370.5L1410.6 372.3L1411.4 370.8L1412.2 364.0L1413.0 353.7L1413.8 342.0L1414.6 331.1L1415.4 323.1L1416.2 320.1L1416.9 330.0L1417.7 350.9L1418.5 371.5L1419.3 380.2L1420.1 369.0L1420.9 346.2L1421.7 325.0L1422.4 318.4L1423.2 325.0L1424.0 333.6L1424.8 334.2L1425.6 318.3L1426.4 293.2L1427.2 268.5L1427.9 254.2L1428.7 255.6L1429.5 265.2L1430.3 279.8L1431.1 296.6L1431.9 313.1L1432.7 326.5L1433.5 334.2L1434.2 334.8L1435.0 332.8L1435.8 329.7L1436.6 326.0L1437.4 322.4L1438.2 317.8L1439.0 312.1L1439.7 307.3L1440.5 305.0L1441.3 310.0L1442.1 323.3L1442.9 338.7L1443.7 349.9L1444.5 350.8L1445.2 339.5L1446.0 322.9L1446.8 309.0L1447.2 305.5L1447.6 305.5L1448.0 309.1L1448.4 314.6L1449.2 323.5L1450.0 321.1L1450.8 311.6L1451.5 301.2L1452.3 295.9L1453.1 301.6L1453.9 315.4L1454.7 329.1L1455.5 334.4L1456.3 330.5L1457.0 324.6L1457.8 323.0L1458.6 328.8L1459.4 335.6L1460.2 335.4L1461.0 321.7L1461.8 298.6L1462.6 271.5L1463.3 245.9L1464.1 227.4L1464.9 221.3L1465.7 228.9L1466.5 245.3L1467.3 266.4L1468.1 287.7L1468.8 304.7L1469.6 313.2L1470.4 312.8L1471.2 310.2L1472.0 307.0L1472.8 304.3L1473.6 303.0L1474.3 307.1L1475.1 316.3L1475.9 325.3L1476.7 328.4L1477.5 321.0L1478.3 305.8L1479.1 288.0L1479.9 272.6L1480.6 264.7L1481.4 268.1L1482.2 280.3L1483.0 296.6L1483.8 312.7L1484.6 324.0L1485.4 325.9L1486.1 316.8L1486.9 302.4L1487.7 289.7L1488.5 285.5L1489.3 289.9L1490.1 297.4L1490.9 303.4L1491.6 303.0L1492.4 294.8L1493.2 284.9L1494.0 280.1L1494.8 282.5L1495.6 288.2L1496.4 295.5L1497.2 302.7L1497.9 308.0L1498.7 309.4L1499.5 302.6L1500.3 289.9L1501.1 276.9L1501.9 268.9L1502.7 271.6L1503.4 281.6L1504.2 285.8L1505.0 277.6L1505.8 264.1L1506.6 253.6L1507.4 254.9L1508.2 272.5L1509.0 296.9L1509.7 317.5L1510.5 323.7L1511.3 316.0L1512.1 304.3L1512.9 297.3L1513.7 301.1L1514.5 311.1L1515.2 319.5L1516.0 319.3L1516.8 310.8L1517.6 298.4L1518.4 286.7L1519.2 279.9L1520.0 279.7L1520.7 280.6L1521.5 282.1L1522.3 284.1L1523.1 286.5L1523.9 289.4L1524.7 294.9L1525.5 302.5L1526.3 310.2L1527.0 318.2L1527.8 327.1L1528.6 333.1L1529.4 331.2L1530.2 317.6L1531.0 300.6L1531.8 289.9L1532.5 294.2L1533.3 311.2L1534.1 330.9L1534.9 343.0L1535.7 337.9L1536.5 318.4L1537.3 296.8L1538.0 285.5L1538.8 290.6L1539.6 302.6L1540.4 312.3L1541.2 311.6L1542.0 302.6L1542.8 292.9L1543.6 290.4L1544.3 299.0L1545.1 311.2L1545.9 318.1L1546.7 312.6L1547.5 298.5L1548.3 282.2L1549.1 270.5L1549.8 269.3L1550.6 277.8L1551.4 291.9L1552.2 307.7L1553.0 321.6L1553.8 329.7L1554.6 328.6L1555.3 318.7L1556.1 304.2L1556.9 289.1L1557.7 277.5L1558.5 273.6L1559.3 277.5L1560.1 285.5L1560.9 294.6L1561.6 301.8L1562.4 304.3L1563.2 298.8L1564.0 286.7L1564.8 271.1L1565.6 254.8L1566.4 240.9L1567.1 232.4L1567.9 232.5L1568.7 242.9L1569.5 257.0L1570.3 267.4L1571.1 266.9L1571.9 255.4L1572.7 237.8L1573.4 219.1L1574.2 204.4L1575.0 198.8L1575.8 206.4L1576.6 223.5L1577.4 243.5L1578.2 259.9L1578.9 266.2L1579.7 263.0L1580.5 256.9L1581.3 251.7L1582.1 251.0L1582.9 255.3L1583.7 261.7L1584.4 267.2L1585.2 268.7L1586.0 266.2L1586.8 261.2L1587.6 255.1L1588.4 249.2L1589.2 244.9L1590.0 243.3L1590.7 244.1L1591.5 246.1L1592.3 249.1L1593.1 253.0L1593.9 257.7L1594.7 262.9L1595.5 271.6L1596.2 287.9L1597.0 305.3L1597.8 316.6L1598.6 315.6L1599.4 303.9L1600.2 287.6L1601.0 272.5L1601.7 263.8L1602.5 256.8L1603.3 250.4L1604.1 245.1L1604.9 241.5L1605.7 240.0L1606.5 248.0L1607.3 268.3L1608.0 291.6L1608.8 308.3L1609.6 309.4L1610.4 294.1L1611.2 273.3L1612.0 258.6L1612.8 259.2L1613.5 269.2L1614.3 280.6L1615.1 286.5L1615.9 284.6L1616.7 281.3L1617.5 281.9L1618.3 291.3L1619.1 304.7L1619.8 315.7L1620.6 318.0L1621.4 309.9L1622.2 296.2L1623.0 282.2L1623.8 273.6L1624.6 274.6L1625.3 283.6L1626.1 296.6L1626.9 309.6L1627.7 318.9L1628.5 320.4L1629.3 309.5L1630.1 292.2L1630.8 276.8L1631.6 271.6L1632.4 277.7L1633.2 288.9L1634.0 299.8L1634.8 304.8L1635.6 303.7L1636.4 301.0L1637.1 297.5L1637.9 294.1L1638.7 291.6L1639.5 290.8L1640.3 291.0L1641.1 291.4L1641.9 292.1L1642.6 292.9L1643.4 293.9L1644.2 295.1L1645.0 296.6L1645.8 300.1L1646.6 305.0L1647.4 310.3L1648.1 314.9L1648.9 317.9L1649.7 317.8L1650.5 309.1L1651.3 294.2L1652.1 278.3L1652.9 266.0L1653.7 262.5L1654.4 268.5L1655.2 276.5L1656.0 278.4L1656.8 275.5L1657.6 272.3L1658.4 272.3L1659.2 281.0L1659.9 293.9L1660.7 304.4L1661.5 305.6L1662.3 292.9L1663.1 272.6L1663.9 252.6L1664.7 240.8L1665.5 242.5L1666.2 249.5L1667.0 252.3L1667.8 248.6L1668.6 243.8L1669.4 243.5L1670.2 252.3L1671.0 266.7L1671.7 281.7L1672.5 292.2L1673.3 293.8L1674.1 288.2L1674.9 278.9L1675.7 269.0L1676.5 261.5L1677.2 257.6L1678.0 254.2L1678.8 251.5L1679.6 250.0L1680.4 252.0L1681.2 263.8L1682.0 280.0L1682.8 294.1L1683.5 299.5L1684.3 292.2L1685.1 277.9L1685.9 264.9L1686.7 261.3L1687.5 266.9L1688.3 274.2L1689.0 276.4L1689.8 272.1L1690.6 265.3L1691.4 260.3L1692.2 261.4L1693.0 270.4L1693.8 283.8L1694.5 297.5L1695.3 307.4L1696.1 309.4L1696.9 296.5L1697.7 273.2L1698.5 247.4L1699.3 227.0L1700.1 219.8L1700.8 228.8L1701.6 245.3L1702.4 259.0L1703.2 259.6L1704.0 244.1L1704.8 223.1L1705.6 208.2L1706.3 208.7L1707.1 219.1L1707.9 234.3L1708.7 249.7L1709.5 260.8L1710.3 263.1L1711.1 254.3L1711.9 239.0L1712.6 222.5L1713.4 210.4L1714.2 207.9L1715.0 217.1L1715.8 231.8L1716.6 245.1L1717.4 249.8L1718.1 244.1L1718.9 232.5L1719.7 218.9L1720.5 207.0L1721.3 200.9L1722.1 208.5L1722.9 233.4L1723.6 264.3L1724.4 289.7L1725.2 298.1L1726.0 291.8L1726.8 279.6L1727.6 267.0L1728.4 259.0L1729.2 258.5L1729.9 259.3L1730.7 260.6L1731.5 262.6L1732.3 265.0L1733.1 268.2L1733.9 280.6L1734.7 297.9L1735.4 308.5L1736.2 304.7L1737.0 292.9L1737.8 279.4L1738.6 270.8L1739.4 273.8L1740.2 289.3L1740.9 309.5L1741.7 326.2L1742.5 331.6L1743.3 329.3L1744.1 324.8L1744.9 319.4L1745.7 314.3L1746.5 311.1L1747.2 310.3L1748.0 309.9L1748.8 309.6L1749.6 309.1L1750.4 307.3L1751.2 300.9L1752.0 294.1L1752.7 291.9L1753.5 295.6L1754.3 301.3L1755.1 304.8L1755.9 304.0L1756.7 302.1L1757.5 300.9L1758.3 307.4L1759.0 324.6L1759.8 341.2L1760.6 346.5L1761.4 341.1L1762.2 332.2L1763.0 324.8L1763.8 324.4L1764.5 335.6L1765.3 349.2L1766.1 353.8L1766.9 351.9L1767.7 348.6L1768.5 346.0L1769.3 346.0L1770.0 350.9L1770.8 356.5L1771.6 356.8L1772.4 347.0L1773.2 331.9L1774.0 317.8L1774.8 310.8L1775.6 313.4L1776.3 318.6L1777.1 319.3L1777.9 313.6L1778.7 304.4L1779.5 295.0L1780.3 288.4L1781.1 287.5L1781.8 290.9L1782.6 296.9L1783.4 304.1L1784.2 311.2L1785.0 316.9L1785.8 319.7L1786.6 319.0L1787.3 315.7L1788.1 310.9L1788.9 305.4L1789.7 300.5L1790.5 296.9L1791.3 295.7L1792.1 296.3L1792.9 297.8L1793.6 299.9L1794.4 302.4L1795.2 305.0L1796.0 307.5L1796.8 309.6L1797.6 311.3L1798.4 313.0L1799.1 315.4L1799.9 319.9L1800.7 337.4L1801.5 361.5L1802.3 378.7L1803.1 379.1L1803.9 370.4L1804.7 357.1L1805.4 342.6L1806.2 330.4L1807.0 324.1L1807.8 327.3L1808.6 338.8L1809.4 351.3L1810.2 357.8L1810.9 350.1L1811.7 330.8L1812.5 310.1L1813.3 297.9L1814.1 300.0L1814.9 308.4L1815.7 317.1L1816.4 320.5L1817.2 317.1L1818.0 310.7L1818.8 305.1L1819.6 303.7L1820.4 307.7L1821.2 314.6L1822.0 322.1L1822.7 327.6L1823.5 328.8L1824.3 325.7L1825.1 320.8L1825.9 316.3L1826.7 314.7L1827.5 320.0L1828.2 328.9L1829.0 334.7L1829.8 330.9L1830.6 318.1L1831.4 302.4L1832.2 290.2L1833.0 287.3L1833.7 289.0L1834.5 292.1L1835.3 295.8L1836.1 299.1L1836.9 301.2L1837.7 300.7L1838.5 295.2L1839.3 288.0L1840.0 283.0L1840.8 282.8L1841.6 283.5L1842.4 284.3L1843.2 283.8L1844.0 273.5L1844.8 256.9L1845.5 240.8L1846.3 232.1L1847.1 234.5L1847.9 241.8L1848.7 249.5L1849.5 253.1L1850.3 252.9L1851.0 252.4L1851.8 251.6L1852.6 250.5L1853.4 249.1L1854.2 244.2L1855.0 229.2L1855.8 210.5L1856.6 195.2L1857.3 190.7L1858.1 206.3L1858.9 233.1L1859.7 256.3L1860.5 262.6L1861.3 263.2L1862.1 263.7L1862.8 266.0L1863.6 281.0L1864.4 299.8L1865.2 308.7L1866.0 302.1L1866.8 288.6L1867.6 276.8L1868.4 274.9L1869.1 283.4L1869.9 294.4L1870.7 299.6L1871.5 296.1L1872.3 289.1L1873.1 283.0L1873.9 282.5L1874.6 291.1L1875.4 304.7L1876.2 318.1L1877.0 325.9L1877.8 324.9L1878.6 318.8L1879.4 310.0L1880.1 300.3L1880.9 292.0L1881.7 287.1L1882.5 288.4L1883.3 298.2L1884.1 310.6L1884.9 318.7L1885.7 319.4L1886.4 319.5L1887.2 319.6L1888.0 319.8L1888.8 320.4L1889.6 322.4L1890.4 325.4L1891.2 328.3L1891.9 330.6L1892.7 332.9L1893.5 335.2L1894.3 336.7L1895.1 337.0L1895.9 334.0L1896.7 328.9L1897.4 324.3L1898.2 322.5L1899.0 325.0L1899.8 329.6L1900.6 333.5L1901.4 333.9L1902.2 330.6L1903.0 325.4L1903.7 320.5L1904.5 317.8L1905.3 317.6L1906.1 317.6L1906.9 317.6L1907.7 317.6L1908.5 317.6L1909.2 321.6L1910.0 333.6L1910.8 344.5L1911.6 346.7L1912.4 346.5L1913.2 346.3L1914.0 346.1L1914.8 346.2L1915.5 349.3L1916.3 354.0L1917.1 357.8L1917.9 358.1L1918.7 355.1L1919.5 350.5L1920.3 345.8L1921.0 342.6L1921.8 343.2L1922.6 351.3L1923.4 364.5L1924.2 379.4L1925.0 392.3L1925.8 399.7L1926.5 398.2L1927.3 387.6L1928.1 371.1L1928.9 352.3L1929.7 334.6L1930.5 321.3L1931.3 315.9L1932.1 322.5L1932.8 338.0L1933.6 355.4L1934.4 367.7L1935.2 369.0L1936.0 364.9L1936.8 360.3L1937.6 358.5L1938.3 359.1L1939.1 359.7L1939.9 358.0L1940.7 350.9L1941.5 342.5L1942.3 337.7L1943.1 340.7L1943.8 349.7L1944.6 358.6L1945.4 361.7L1946.2 361.2L1947.0 360.3L1947.8 359.8L1948.6 363.1L1949.4 371.9L1950.1 379.5L1950.9 380.4L1951.7 378.5L1952.5 376.3L1953.3 375.5L1954.1 377.2L1954.9 379.8L1955.6 381.4L1956.4 378.0L1957.2 369.0L1958.0 360.2L1958.8 357.4L1959.6 363.6L1960.4 374.9L1961.2 386.0L1961.9 391.8L1962.7 389.0L1963.5 381.2L1964.3 372.9L1965.1 368.4L1965.9 368.3L1966.7 368.3L1967.4 368.3L1968.2 368.3L1969.0 368.3L1969.8 369.2L1970.6 377.9L1971.4 391.8L1972.2 405.4L1972.9 413.4L1973.7 412.6L1974.5 407.7L1975.3 400.7L1976.1 393.3L1976.9 387.4L1977.7 384.7L1978.5 386.6L1979.2 391.9L1980.0 398.1L1980.8 402.7L1981.6 403.4L1982.4 400.5L1983.2 395.2L1984.0 388.1L1984.7 380.2L1985.5 372.1L1986.3 364.7L1987.1 358.7L1987.9 354.9L1988.7 354.3L1989.5 363.2L1990.2 378.8L1991.0 394.9L1991.8 405.4L1992.6 404.9L1993.4 397.0L1994.2 387.6L1995.0 382.7L1995.8 382.8L1996.5 383.7L1997.3 386.1L1998.1 390.6L1998.5 394.0" stroke="#aa0000" fill="none" stroke-width="4" stroke-linejoin="round" stroke-linecap="butt"/>
<path d="M131.9 1128.1L132.7 1130.2L133.5 1132.8L134.3 1135.6L135.0 1138.5L135.8 1140.3L136.6 1139.4L137.4 1136.2L138.2 1132.7L139.0 1132.3L139.8 1132.5L140.6 1130.9L141.3 1125.7L142.1 1120.0L142.9 1114.2L143.7 1108.9L144.5 1104.9L145.3 1102.6L146.1 1102.0L146.8 1102.1L147.6 1101.7L148.4 1100.1L149.2 1097.2L150.0 1093.2L150.8 1088.9L151.6 1084.9L152.3 1082.3L153.1 1081.4L153.9 1081.9L154.7 1083.0L155.5 1084.1L156.3 1085.9L157.1 1088.8L157.9 1093.2L158.6 1099.1L159.4 1105.8L160.2 1112.2L161.0 1117.1L161.8 1120.0L162.6 1121.0L163.4 1120.9L164.1 1120.3L164.9 1119.5L165.7 1118.9L166.5 1118.7L167.3 1119.0L168.1 1119.7L168.9 1120.2L169.6 1120.4L170.4 1120.9L171.2 1122.2L172.0 1124.3L172.8 1126.7L173.6 1128.4L174.4 1128.4L175.2 1126.4L175.9 1122.6L176.7 1117.8L177.5 1113.4L178.3 1110.0L179.1 1107.4L179.9 1105.5L180.7 1104.3L181.4 1103.8L182.2 1103.6L183.0 1103.4L183.8 1103.0L184.6 1102.4L185.4 1102.1L186.2 1102.1L187.0 1102.7L187.7 1103.8L188.5 1105.6L189.3 1107.8L190.1 1110.3L190.9 1113.3L191.7 1116.9L192.5 1121.1L193.2 1125.5L194.0 1129.5L194.8 1132.5L195.6 1133.9L196.4 1133.4L197.2 1131.1L198.0 1127.7L198.7 1124.1L199.5 1120.5L200.3 1117.1L201.1 1113.5L201.9 1109.7L202.7 1105.6L203.5 1101.3L204.3 1097.6L205.0 1094.9L205.8 1093.4L206.6 1092.8L207.4 1092.7L208.2 1093.0L209.0 1093.6L209.8 1094.9L210.5 1097.1L211.3 1100.2L212.1 1103.7L212.9 1106.3L213.7 1107.3L214.5 1107.4L215.3 1108.1L216.0 1109.9L216.8 1112.7L217.6 1115.7L218.4 1117.8L219.2 1118.2L220.0 1117.0L220.8 1115.3L221.6 1114.8L222.3 1115.0L223.1 1114.4L223.9 1111.9L224.7 1107.5L225.5 1101.8L226.3 1096.2L227.1 1092.0L227.8 1089.6L228.6 1088.8L229.4 1088.7L230.2 1088.8L231.0 1088.9L231.8 1089.2L232.6 1089.5L233.4 1089.6L234.1 1089.3L234.9 1088.4L235.7 1087.1L236.5 1085.6L237.3 1084.3L238.1 1083.3L238.9 1082.8L239.6 1082.5L240.4 1082.5L241.2 1083.1L242.0 1084.6L242.8 1087.2L243.6 1090.9L244.4 1094.9L245.1 1098.6L245.9 1101.5L246.7 1103.6L247.5 1105.4L248.3 1107.4L249.1 1109.6L249.9 1111.8L250.7 1113.4L251.4 1114.4L252.2 1115.0L253.0 1115.5L253.8 1116.3L254.6 1117.7L255.4 1119.5L256.2 1121.2L256.9 1122.5L257.7 1123.3L258.5 1123.6L259.3 1123.1L260.1 1122.0L260.9 1120.5L261.7 1119.0L262.4 1118.0L263.2 1117.6L264.0 1117.7L264.8 1117.7L265.6 1117.5L266.4 1117.2L267.2 1117.3L268.0 1118.1L268.7 1119.2L269.5 1120.1L270.3 1120.3L271.1 1119.6L271.9 1119.6L272.7 1118.0L273.5 1117.7L274.2 1116.1L275.0 1115.7L275.8 1118.4L276.6 1122.0L277.4 1125.9L278.2 1130.0L279.0 1133.7L279.8 1135.7L280.5 1135.0L281.3 1132.3L282.1 1131.1L282.9 1133.9L283.7 1134.6L284.5 1132.8L285.3 1129.0L286.0 1124.8L286.8 1120.8L287.6 1117.8L288.4 1116.2L289.2 1116.4L290.0 1117.8L290.8 1119.1L291.5 1119.4L292.3 1118.3L293.1 1116.0L293.9 1112.9L294.7 1109.8L295.5 1107.5L296.3 1106.7L297.1 1107.4L297.8 1108.9L298.2 1109.5M299.0 1110.9L299.4 1111.4L300.2 1112.6L301.0 1114.6L301.8 1117.8L302.6 1122.1L303.3 1126.8L304.1 1130.7L304.9 1132.7L305.7 1132.2L306.5 1129.5L307.3 1125.3L308.1 1120.2L308.8 1115.0L309.6 1110.2L310.4 1106.3L311.2 1103.2L312.0 1100.8L312.8 1098.7L313.6 1096.5L314.4 1094.9L315.1 1094.6L315.9 1095.4L316.7 1096.8L317.5 1097.9L318.3 1097.5L319.1 1095.5L319.9 1092.1L320.6 1087.9L321.4 1084.3L322.2 1082.0L323.0 1080.4L323.8 1079.5L324.6 1079.1L325.4 1079.3L326.1 1079.5L326.9 1079.5L327.7 1079.1L328.5 1078.3L329.3 1077.5L330.1 1076.7L330.9 1076.3L331.7 1076.2L332.4 1076.5L333.2 1077.1L334.0 1078.2L334.8 1079.8L335.6 1082.2L336.4 1085.3L337.2 1088.8L337.9 1092.2L338.7 1094.9L339.5 1096.3L340.3 1096.1L341.1 1094.3L341.9 1091.5L342.7 1088.7L343.5 1086.1L344.2 1084.1L345.0 1082.4L345.8 1080.6L346.6 1078.6L347.4 1076.4L348.2 1074.6L349.0 1073.7L349.7 1073.6L350.5 1074.4L351.3 1075.6L352.1 1077.1L352.9 1078.8L353.7 1081.1L354.5 1084.2L355.2 1087.9L356.0 1091.9L356.8 1095.0L357.6 1096.5L358.4 1097.2L359.2 1098.3L360.0 1100.5L360.8 1103.5L361.5 1106.7L362.3 1108.8L363.1 1109.3L363.9 1108.1L364.7 1106.4L365.5 1105.6L366.3 1105.6L367.0 1104.7L367.8 1101.9L368.6 1097.0L369.4 1090.3L370.2 1083.6L371.0 1078.4L371.8 1075.3L372.5 1073.7L373.3 1072.8L374.1 1072.0L374.9 1071.4L375.7 1071.2L376.5 1071.2L377.3 1071.2L378.1 1070.9L378.8 1070.2L379.6 1069.2L380.4 1068.4L381.2 1067.9L382.0 1067.8L382.8 1068.0L383.6 1068.3L384.3 1068.5L385.1 1069.0L385.9 1070.1L386.7 1072.1L387.5 1074.9L388.3 1077.9L389.1 1080.2L389.9 1081.5L390.6 1081.7L391.4 1081.3L392.2 1080.7L393.0 1079.9L393.8 1078.9L394.6 1077.3L395.4 1075.0L396.1 1072.4L396.9 1069.9L397.7 1068.0L398.5 1066.9L399.3 1066.5L400.1 1066.4L400.9 1066.4L401.6 1066.4L402.4 1066.4L403.2 1066.1L404.0 1065.6L404.8 1065.1L405.6 1064.8L406.4 1064.9L407.2 1065.6L407.9 1066.5L408.7 1067.0L409.5 1066.8L410.3 1066.0L411.1 1065.2L411.9 1064.5L412.7 1064.1L413.4 1063.6L414.2 1062.7L415.0 1061.0L415.8 1059.2L416.6 1054.9L417.4 1051.3L418.2 1046.2L418.9 1042.6L419.7 1042.4L420.5 1043.4L421.3 1045.1L422.1 1047.3L422.9 1049.6L423.7 1050.4L424.5 1048.9L425.2 1045.7L426.0 1044.4L426.8 1047.4L427.6 1048.7L428.4 1047.8L429.2 1045.3L430.0 1042.9L430.7 1041.0L431.5 1040.2L432.3 1040.9L433.1 1043.3L433.9 1046.7L434.7 1049.8L435.5 1051.9L436.3 1052.5L437.0 1051.7L437.8 1049.9L438.6 1048.0L439.4 1046.7L440.2 1046.8L441.0 1048.2L441.8 1050.2L442.5 1052.0L443.3 1053.8L444.1 1056.1L444.9 1059.4L445.7 1064.0L446.5 1069.3L447.3 1074.5L448.0 1078.3L448.8 1079.9L449.6 1079.2L450.4 1076.5L451.2 1072.7L452.0 1068.4L452.8 1064.3L453.6 1061.0L454.3 1058.5L455.1 1056.7L455.9 1055.5L456.7 1054.3L457.5 1053.1L458.3 1053.0L459.1 1054.0L459.8 1055.8L460.6 1057.7L461.4 1058.6L462.2 1057.8L463.0 1055.4L463.8 1051.7L464.6 1048.0L465.3 1045.3L466.1 1043.7L466.9 1042.8L467.7 1042.6L468.5 1043.1L469.3 1043.9L470.1 1044.8L470.9 1045.4L471.6 1045.6L472.4 1045.8L473.2 1046.1L474.0 1046.8L474.8 1047.9L475.6 1049.5L476.4 1051.6L477.1 1054.1L477.9 1057.1L478.7 1060.5L479.5 1064.5L480.3 1068.7L481.1 1072.8L481.9 1076.3L482.7 1078.8L483.4 1079.5L484.2 1078.4L485.0 1075.9L485.8 1072.8L486.6 1069.8L487.4 1067.1L488.2 1064.6L488.9 1062.0L489.7 1058.8L490.5 1055.1L491.3 1051.3L492.1 1048.1L492.9 1045.6L493.7 1043.9L494.4 1042.7L495.2 1041.6L496.0 1040.6L496.8 1039.7L497.6 1039.4L498.4 1039.6L499.2 1040.2L500.0 1040.5L500.7 1039.2L501.5 1036.6L502.3 1034.0L503.1 1032.6L503.9 1032.6L504.7 1033.8L505.5 1035.2L506.2 1035.8L507.0 1035.4L507.8 1034.4L508.6 1034.5L509.4 1036.4L510.2 1039.1L511.0 1041.1L511.7 1041.8L512.5 1041.5L513.3 1040.9L514.1 1041.4L514.9 1043.7L515.7 1047.5L516.5 1051.8L517.3 1055.5L518.0 1058.3L518.8 1060.5L519.6 1062.2L520.4 1063.3L521.2 1063.5L522.0 1062.5L522.8 1060.0L523.5 1056.4L524.3 1052.1L525.1 1047.6L525.9 1043.1L526.7 1038.9L527.5 1035.0L528.3 1031.7L529.1 1029.3L529.8 1028.3L530.6 1028.7L531.4 1030.1L532.2 1031.8L533.0 1033.0L533.8 1033.7L534.6 1034.0L535.3 1034.5L536.1 1035.3L536.9 1036.4L537.7 1037.3L538.5 1037.8L539.3 1037.8L540.1 1037.5L540.8 1037.5L541.6 1038.0L542.4 1039.0L543.2 1040.2L544.0 1041.2L544.8 1041.9L545.6 1042.2L546.4 1042.0L547.1 1041.2L547.9 1039.9L548.7 1038.3L549.5 1036.8L550.3 1035.5L551.1 1034.4L551.9 1033.0L552.6 1030.8L553.4 1027.6L554.2 1023.7L555.0 1019.5L555.8 1015.5L556.6 1011.6L557.4 1007.0L558.1 1001.4L558.9 994.8L559.7 987.2L560.5 979.2L561.3 972.4L562.1 962.6L562.9 958.2L563.7 955.7L564.4 954.8L565.2 955.3L566.0 956.9L566.8 958.7L567.6 958.7L568.4 957.3L569.2 956.5L569.9 960.4L570.7 966.5L571.5 972.4L572.3 976.0L573.1 980.2L573.9 985.2L574.7 990.9L575.5 997.4L576.2 1004.7L577.0 1012.9L577.8 1020.8L578.6 1027.3L579.4 1031.8L580.2 1034.1L581.0 1034.4L581.7 1033.0L582.5 1030.8L583.3 1028.9L584.1 1027.8L584.9 1027.0L585.7 1026.0L586.5 1024.7L587.2 1024.0L588.0 1024.4L588.8 1026.4L589.6 1029.8L590.4 1034.1L591.2 1037.9L592.0 1040.2L592.8 1040.5L593.5 1038.9L594.3 1036.2L595.1 1033.0L595.9 1030.0L596.7 1027.7L597.5 1026.4L598.3 1026.0L599.0 1026.3L599.8 1027.1L600.6 1028.1L601.4 1029.8L602.2 1033.0L603.0 1037.5L603.8 1042.7L604.5 1047.6L605.3 1051.2L606.1 1053.1L606.9 1053.6L607.7 1053.3L608.5 1053.4L609.3 1054.5L610.1 1056.0L610.8 1057.7L611.6 1059.2L612.4 1060.7L613.2 1061.6L614.0 1061.8L614.8 1061.1L615.6 1059.5L616.3 1057.5L617.1 1055.0L617.9 1052.0L618.7 1048.6L619.5 1044.9L620.3 1040.9L621.1 1036.9L621.8 1033.2L622.6 1030.3L623.4 1028.4L624.2 1027.4L625.0 1026.7L625.8 1026.1L626.6 1024.7L627.4 1022.3L628.1 1018.8L628.9 1015.1L629.7 1011.8L630.5 1009.5L631.3 1008.2L632.1 1007.9L632.9 1008.0L633.6 1008.2L634.4 1008.1L635.2 1008.4L636.0 1009.1L636.8 1010.5L637.6 1012.4L638.4 1014.4L639.2 1016.3L639.9 1018.1L640.7 1020.1L641.5 1022.5L642.3 1025.1L643.1 1027.8L643.9 1029.2L644.7 1028.7L645.4 1027.5L646.2 1026.7L647.0 1027.1L647.8 1028.6L648.6 1030.6L649.4 1031.8L650.2 1031.7L650.9 1030.3L651.7 1028.6L652.5 1028.4L653.3 1029.1L654.1 1029.4L654.9 1028.2L655.7 1025.4L656.5 1021.6L657.2 1018.0L658.0 1015.8L658.8 1015.4L659.6 1016.4L660.4 1017.9L661.2 1019.4L662.0 1020.8L662.7 1022.1L663.5 1023.3L664.3 1024.2L665.1 1024.6L665.9 1024.3L666.7 1023.5L667.5 1022.4L668.2 1021.4L669.0 1020.6L669.8 1020.0L670.6 1019.5L671.4 1018.9L672.2 1018.6L673.0 1018.7L673.8 1019.7L674.5 1021.3L675.3 1022.9L676.1 1023.7L676.9 1023.2L677.7 1021.6L678.5 1019.2L679.3 1016.7L680.0 1014.2L680.8 1011.4L681.6 1008.5L682.4 1005.3L683.2 1002.1L684.0 999.4L684.8 997.6L685.6 996.8L686.3 996.8L687.1 997.3L687.9 998.0L688.7 998.8L689.5 999.6L690.3 1000.3L691.1 1000.8L691.8 1001.6L692.6 1003.0L693.4 1005.1L694.2 1007.6L695.0 1009.9L695.8 1011.3L696.6 1011.9L697.3 1011.9L698.1 1011.7L698.9 1011.6L699.7 1011.1L700.5 1009.7L701.3 1006.9L702.1 1002.8L702.9 998.6L703.6 992.4L704.4 986.9L705.2 979.9L706.0 974.2L706.8 971.8L707.6 970.7L708.4 970.8L709.1 971.8L709.9 973.3L710.7 973.7L711.5 972.4L712.3 969.9L713.1 969.5L713.9 973.8L714.6 977.5L715.4 979.8L716.2 981.1L717.0 982.8L717.8 985.4L718.6 988.7L719.4 992.6L720.2 997.5L720.9 1003.1L721.7 1008.0L722.5 1011.4L723.3 1012.5L724.1 1011.7L724.9 1009.2L725.7 1005.9L726.4 1002.6L727.2 1000.0L728.0 998.4L728.8 997.2L729.6 995.9L730.4 994.8L731.2 994.5L732.0 995.7L732.7 998.3L733.5 1002.2L734.3 1006.3L735.1 1009.4L735.9 1010.6L736.7 1009.8L737.5 1007.5L738.2 1004.4L739.0 1001.1L739.8 998.4L740.6 996.6L741.4 995.9L742.2 995.9L743.0 996.3L743.7 996.5L744.5 996.5L745.3 997.1L746.1 998.8L746.9 1001.2L747.7 1003.6L748.5 1004.8L749.3 1004.2L750.0 1001.7L750.8 997.9L751.6 993.9L752.4 990.8L753.2 988.7L754.0 987.1L754.8 986.2L755.5 985.9L756.3 986.0L757.1 986.1L757.9 985.8L758.7 985.0L759.5 984.0L760.3 983.1L761.0 982.3L761.8 981.8L762.6 981.7L763.4 982.0L764.2 982.6L765.0 983.6L765.8 985.3L766.6 987.7L767.3 990.8L768.1 993.9L768.9 996.7L769.7 998.6L770.5 998.9L771.3 997.5L772.1 994.9L772.8 991.8L773.6 989.0L774.4 986.6L775.2 984.6L776.0 982.7L776.8 980.4L777.6 977.8L778.4 975.2L779.1 973.4L779.9 972.5L780.7 972.6L781.5 973.4L782.3 974.6L783.1 976.1L783.9 978.1L784.6 980.6L785.4 983.8L786.2 987.6L787.0 991.0L787.8 993.0L788.6 993.8L789.4 994.3L790.1 995.6L790.9 997.9L791.7 1000.8L792.5 1003.2L793.3 1004.3L794.1 1003.7L794.9 1002.0L795.7 1000.8L796.4 1000.9L797.2 1001.0L798.0 999.7L798.8 996.3L799.6 991.3L800.4 985.6L801.2 980.8L801.9 977.6L802.7 976.2L803.5 976.0L804.3 976.2L805.1 976.3L805.9 976.5L806.7 976.8L807.4 977.0L808.2 977.0L809.0 976.5L809.8 975.5L810.6 974.3L811.4 973.2L812.2 972.5L813.0 972.0L813.7 971.7L814.5 971.6L815.3 971.8L816.1 972.6L816.9 974.3L817.7 976.9L818.5 980.2L819.2 983.4L820.0 985.8L820.8 987.3L821.6 988.1L822.4 988.7L823.2 989.5L824.0 990.3L824.8 990.8L825.5 990.7L826.3 990.1L827.1 989.3L827.9 988.9L828.7 989.1L829.5 990.0L830.3 991.2L831.0 992.4L831.8 993.4L832.6 994.2L833.4 994.7L834.2 994.7L835.0 994.4L835.8 994.0L836.5 993.8L837.3 994.2L838.1 995.1L838.9 995.9L839.7 996.4L840.5 996.5L841.3 996.6L842.1 997.1L842.8 998.1L843.6 999.0L844.4 999.2L845.2 998.4L846.0 997.3L846.8 995.5L847.6 993.6L848.3 992.8L849.1 988.8L849.9 989.6L850.7 991.8L851.5 994.6L852.3 997.7L853.1 1000.9L853.8 1003.3L854.6 1003.0L855.4 1000.6L856.2 998.0L857.0 998.7L857.8 1000.0L858.6 999.9L859.4 996.4L860.1 992.4L860.9 988.5L861.7 985.0L862.5 982.7L863.3 981.8L864.1 982.3L864.9 983.1L865.6 983.1L866.4 981.5L867.2 978.3L868.0 973.7L868.8 968.4L869.6 963.1L870.4 958.8L871.2 956.1L871.9 954.4L872.7 953.1M873.5 952.0L874.3 950.9L875.1 950.7L875.9 952.0L876.7 954.8L877.4 959.0L878.2 963.5L879.0 967.2L879.8 969.3L880.6 969.4L881.4 968.1L882.2 966.2L882.9 964.3L883.7 962.9L884.5 962.5L885.3 962.8L886.1 963.6L886.9 964.9L887.7 966.3L888.5 967.8L889.2 970.4L890.0 974.2L890.8 978.8L891.6 983.4L892.4 986.8L893.2 988.4L894.0 988.2L894.7 986.6L895.5 984.7L896.3 983.5L897.1 983.0L897.9 983.0L898.7 983.3L899.5 983.9L900.2 984.6L901.0 984.9L901.8 984.5L902.6 983.3L903.4 981.7L904.2 980.0L905.0 978.1L905.8 976.1L906.5 973.9L907.3 971.8L908.1 969.7L908.9 967.8L909.7 966.5L910.5 966.1L911.3 966.6L912.0 967.4L912.8 968.2L913.6 968.4L914.4 967.5L915.2 965.3L916.0 962.3L916.8 959.2L917.5 956.6L918.3 955.0L919.1 954.2L919.9 953.8L920.7 953.3L921.5 952.5L922.3 951.6L923.1 951.2L923.8 951.3L924.6 952.0L925.4 952.9L926.2 953.9L927.0 954.8L927.8 955.9L928.6 957.3L929.3 959.2L930.1 961.4L930.9 963.0L931.7 962.9L932.5 961.2L933.3 959.5L934.1 958.6L934.9 959.1L935.6 960.5L936.4 961.9L937.2 962.3L938.0 961.5L938.8 959.8L939.6 959.0L940.4 959.8L941.1 961.1L941.9 961.4L942.7 960.1L943.5 957.5L944.3 954.5L945.1 952.3L945.9 951.8L946.6 952.7L947.4 954.4L948.2 955.9L949.0 957.0L949.8 957.6L950.6 957.8L951.4 957.3L952.2 956.2L952.9 954.1L953.7 951.0L954.5 947.2L955.3 943.1L956.1 939.1L956.9 935.3L957.7 931.9L958.4 928.9L959.2 926.5L960.0 925.1L960.8 925.1L961.6 926.5L962.4 928.9L963.2 931.5L963.9 933.6L964.7 935.2L965.5 936.4L966.3 937.8L967.1 939.7L967.9 942.0L968.7 944.3L969.5 946.0L970.2 947.1L971.0 947.7L971.8 948.3L972.6 949.4L973.4 950.8L974.2 952.3L975.0 953.6L975.7 954.4L976.5 954.7L977.3 954.4L978.1 953.3L978.9 951.6L979.7 949.4L980.5 947.2L981.3 945.3L982.0 943.8L982.8 942.2L983.6 940.3L984.4 938.2L985.2 936.4L986.0 935.5L986.8 935.5L987.5 935.9L988.3 936.0L989.1 935.4L989.9 934.6L990.7 933.5L991.5 932.3L992.3 932.4L993.0 929.5L993.8 931.6L994.6 935.2L995.4 939.5L996.2 944.2L997.0 949.0L997.8 952.8L998.6 954.1L999.3 953.3L1000.1 952.4L1000.9 955.1L1001.7 958.5L1002.5 960.4L1003.3 958.9L1004.1 956.8L1004.8 954.7L1005.6 953.0L1006.4 952.4L1007.2 953.2L1008.0 955.3L1008.8 957.7L1009.6 959.2L1010.3 959.2L1011.1 957.3L1011.9 954.2L1012.7 950.2L1013.5 946.3L1014.3 943.5L1015.1 942.0L1015.9 941.7L1016.6 941.6L1017.4 941.4L1018.2 941.6L1019.0 942.8L1019.8 945.4L1020.6 949.3L1021.4 953.8L1022.1 957.8L1022.9 960.1L1023.7 960.2L1024.5 958.2L1025.3 954.9L1026.1 950.9L1026.9 947.0L1027.7 943.6L1028.4 941.2L1029.2 939.6L1030.0 938.7L1030.8 937.9L1031.6 937.0L1032.4 936.6L1033.2 937.4L1033.9 939.2L1034.7 941.7L1035.5 943.6L1036.3 944.1L1037.1 942.9L1037.9 940.2L1038.7 936.7L1039.4 933.8L1040.2 932.1L1041.0 931.2L1041.8 930.9L1042.6 931.2L1043.4 931.9L1044.2 932.7L1045.0 933.1L1045.7 933.1L1046.5 932.6L1047.3 932.1L1048.1 931.7L1048.9 931.5L1049.7 931.7L1050.5 932.2L1051.2 933.1L1052.0 934.2L1052.8 935.9L1053.6 938.3L1054.4 941.4L1055.2 944.9L1056.0 948.2L1056.7 951.0L1057.5 952.4L1058.3 952.2L1059.1 950.4L1059.9 947.8L1060.7 945.0L1061.5 942.6L1062.3 940.7L1063.0 939.0L1063.8 937.3L1064.6 935.2L1065.4 932.8L1066.2 930.9L1067.0 929.6L1067.8 929.2L1068.5 929.4L1069.3 929.9L1070.1 930.6L1070.9 931.5L1071.7 932.8L1072.5 934.7L1073.3 937.2L1074.1 939.9L1074.8 941.4L1075.6 941.3L1076.4 940.3L1077.2 939.7L1078.0 940.2L1078.8 941.7L1079.6 943.7L1080.3 944.9L1081.1 944.4L1081.9 942.3L1082.7 939.7L1083.5 938.2L1084.3 937.5L1085.1 936.0L1085.8 932.8L1086.6 927.7L1087.4 921.5L1088.2 915.7L1089.0 911.3L1089.8 909.0L1090.6 908.3L1091.4 908.3L1092.1 908.6L1092.9 909.0L1093.7 909.5L1094.5 910.0L1095.3 910.3L1096.1 910.1L1096.9 909.5L1097.6 908.5L1098.4 907.5L1099.2 906.8L1100.0 906.5L1100.8 906.6L1101.6 906.9L1102.4 907.4L1103.1 908.3L1103.9 910.0L1104.7 912.7L1105.5 916.3L1106.3 920.3L1107.1 923.8L1107.9 926.3L1108.7 928.0L1109.4 929.2L1110.2 930.5L1111.0 931.8L1111.8 932.9L1112.6 933.5L1113.4 933.4L1114.2 932.7L1114.9 931.9L1115.7 931.3L1116.5 931.1L1117.3 931.1L1118.1 931.0L1118.9 930.4L1119.7 929.3L1120.5 927.7L1121.2 925.2L1122.0 922.0L1122.8 918.2L1123.6 914.2L1124.4 910.5L1125.2 907.3L1126.0 904.5L1126.7 901.6L1127.5 898.3L1128.3 895.0L1129.1 892.2L1129.9 889.9L1130.7 888.0L1131.5 885.9L1132.2 883.0L1133.0 879.4L1133.8 876.3L1134.6 871.8L1135.4 868.6L1136.2 864.5L1137.0 862.1L1137.8 863.4L1138.5 866.2L1139.3 870.1L1139.7 872.3L1140.1 973.2L1140.9 923.2L1141.7 881.8L1142.5 849.2L1143.3 826.1L1144.0 815.9L1144.8 825.1L1145.6 854.5L1146.4 888.6L1147.2 911.3L1148.0 911.8L1148.8 907.1L1149.5 903.7L1150.3 908.2L1151.1 919.9L1151.9 929.8L1152.7 929.6L1153.5 919.7L1154.3 904.3L1155.1 888.1L1155.8 876.4L1156.6 874.6L1157.4 884.9L1158.2 902.9L1159.0 923.5L1159.8 940.9L1160.6 948.9L1161.3 943.1L1162.1 927.0L1162.9 909.0L1163.7 897.0L1164.5 897.4L1165.3 902.8L1166.1 906.8L1166.9 906.5L1167.6 902.4L1168.4 897.1L1169.2 895.8L1170.0 902.2L1170.8 913.8L1171.6 927.7L1172.4 940.8L1173.1 949.6L1173.9 950.5L1174.7 938.9L1175.5 919.4L1176.3 900.0L1177.1 888.1L1177.9 891.8L1178.6 912.7L1179.4 929.9L1180.2 928.7L1181.0 921.5L1181.8 913.2L1182.6 908.9L1183.4 912.7L1184.2 921.9L1184.9 932.1L1185.7 939.4L1186.5 939.6L1187.3 927.9L1188.1 908.1L1188.9 885.8L1189.7 866.6L1190.4 856.8L1191.2 864.7L1192.0 889.1L1192.8 917.8L1193.6 939.1L1194.4 942.4L1195.2 936.3L1195.9 926.2L1196.7 915.1L1197.5 905.3L1198.3 899.3L1199.1 898.9L1199.9 903.7L1200.7 909.7L1201.5 912.8L1202.2 910.4L1203.0 905.0L1203.8 900.1L1204.6 901.6L1205.4 909.9L1206.2 918.8L1207.0 921.2L1207.7 912.7L1208.5 898.3L1209.3 885.8L1210.1 883.6L1210.9 895.5L1211.7 912.8L1212.5 925.5L1213.3 924.7L1214.0 913.6L1214.8 898.8L1215.6 886.7L1216.4 883.4L1217.2 887.5L1218.0 893.6L1218.8 898.3L1219.5 900.0L1220.3 899.4L1221.1 899.7L1221.9 913.7L1222.7 944.1L1223.5 954.2L1224.3 936.2L1225.0 904.6L1225.8 872.6L1226.6 854.9L1227.4 862.8L1228.2 889.0L1229.0 918.2L1229.8 935.8L1230.6 933.0L1231.3 923.0L1232.1 913.7L1232.9 911.1L1233.7 912.9L1234.5 915.5L1235.3 916.0L1236.1 912.5L1236.8 906.5L1237.6 899.3L1238.4 892.1L1239.2 886.1L1240.0 882.5L1240.8 882.2L1241.6 884.9L1242.3 889.8L1243.1 896.2L1243.9 903.1L1244.7 909.4L1245.5 914.1L1246.3 916.3L1247.1 915.5L1247.9 912.9L1248.6 909.5L1249.4 906.4L1250.2 903.7L1251.0 902.2L1251.8 902.6L1252.6 904.3L1253.4 906.3L1254.1 908.4L1254.9 909.6L1255.7 907.2L1256.5 902.5L1257.3 898.0L1258.1 896.5L1258.9 898.6L1259.6 903.2L1260.4 909.2L1261.2 915.3L1262.0 920.2L1262.8 922.4L1263.6 920.1L1264.4 914.3L1265.2 906.8L1265.9 899.5L1266.7 894.6L1267.5 894.3L1268.3 902.5L1269.1 916.6L1269.9 931.3L1270.7 941.3L1271.4 942.1L1272.2 933.5L1273.0 919.3L1273.8 903.6L1274.6 889.5L1275.4 880.2L1276.2 879.6L1277.0 891.9L1277.7 910.8L1278.5 929.1L1279.3 940.5L1280.1 935.5L1280.9 926.1L1281.7 912.8L1282.5 898.1L1283.2 885.5L1284.0 878.3L1284.8 879.0L1285.6 888.2L1286.4 902.5L1287.2 919.1L1288.0 936.7L1288.7 947.5L1289.5 947.0L1290.3 937.6L1291.1 924.0L1291.9 908.3L1292.7 892.3L1293.5 878.3L1294.3 868.2L1295.0 863.5L1295.8 865.7L1296.6 879.5L1297.4 896.9L1298.2 907.6L1299.0 904.7L1299.8 896.7L1300.5 889.5L1301.3 888.0L1302.1 892.2L1302.9 897.8L1303.7 899.8L1304.5 895.4L1305.3 887.2L1306.0 879.3L1306.8 875.2L1307.6 877.3L1308.4 881.5L1309.2 885.5L1310.0 887.9L1310.8 888.1L1311.6 886.1L1312.3 882.9L1313.1 879.2L1313.9 876.1L1314.7 875.9L1315.5 878.7L1316.3 883.0L1317.1 886.6L1317.8 887.7L1318.6 885.6L1319.4 883.4L1320.2 882.0L1321.0 881.6L1321.8 881.7L1322.6 881.5L1323.4 880.3L1324.1 877.9L1324.9 875.0L1325.7 873.1L1326.5 873.0L1327.3 874.9L1328.1 878.1L1328.9 881.9L1329.6 886.0L1330.4 891.8L1331.2 898.9L1332.0 905.0L1332.8 908.5L1333.6 907.4L1334.4 901.2L1335.1 892.9L1335.9 886.7L1336.7 886.5L1337.5 893.5L1338.3 901.5L1339.1 904.0L1339.9 898.8L1340.7 889.4L1341.4 879.3L1342.2 871.7L1343.0 869.4L1343.8 873.5L1344.6 880.7L1345.4 888.4L1346.2 894.6L1346.9 898.1L1347.7 897.3L1348.5 894.1L1349.3 891.2L1350.1 888.8L1350.9 889.7L1351.7 896.5L1352.4 904.0L1353.2 907.0L1354.0 902.0L1354.8 893.5L1355.6 887.8L1356.4 890.0L1357.2 898.1L1358.0 907.1L1358.7 912.2L1359.5 911.4L1360.3 907.8L1361.1 902.4L1361.9 895.5L1362.7 888.0L1363.5 882.5L1364.2 881.3L1365.0 884.0L1365.8 889.3L1366.6 895.2L1367.4 899.2L1368.2 899.7L1369.0 897.4L1369.8 894.5L1370.5 892.7L1371.3 892.2L1372.1 891.8L1372.9 891.1L1373.7 890.6L1374.5 890.3L1375.3 890.6L1376.0 891.6L1376.8 892.8L1377.6 893.0L1378.4 891.6L1379.2 889.8L1380.0 888.8L1380.8 890.4L1381.5 895.7L1382.3 902.5L1383.1 908.0L1383.9 909.5L1384.7 909.2L1385.5 908.5L1386.3 907.5L1387.1 906.7L1387.8 905.6L1388.6 901.4L1389.4 895.2L1390.2 889.4L1391.0 886.7L1391.8 889.6L1392.6 896.9L1393.3 904.7L1394.1 908.0L1394.9 900.2L1395.7 886.1L1396.5 873.4L1397.3 870.0L1398.1 879.2L1398.8 894.9L1399.6 909.5L1400.4 915.9L1401.2 913.6L1402.0 907.9L1402.8 900.4L1403.6 892.7L1404.4 886.0L1405.1 881.0L1405.9 878.9L1406.7 880.6L1407.5 884.5L1408.3 889.3L1409.1 894.1L1409.9 898.2L1410.6 901.0L1411.4 901.0L1412.2 896.1L1413.0 888.0L1413.8 878.3L1414.6 868.8L1415.4 862.0L1416.2 860.5L1416.9 872.4L1417.7 895.4L1418.5 917.7L1419.3 927.2L1420.1 915.8L1420.9 893.2L1421.7 870.6L1422.4 863.7L1423.2 868.8L1424.0 877.0L1424.8 880.5L1425.6 868.4L1426.4 847.4L1427.2 827.1L1427.9 816.8L1428.7 820.6L1429.5 829.9L1430.3 842.2L1431.1 858.5L1431.9 878.4L1432.7 893.2L1433.5 899.8L1434.2 897.4L1435.0 892.2L1435.8 886.1L1436.6 880.2L1437.4 875.7L1438.2 871.6L1439.0 867.6L1439.7 864.1L1440.5 862.0L1441.3 865.4L1442.1 875.7L1442.9 887.2L1443.7 894.1L1444.5 891.2L1445.2 877.5L1446.0 859.9L1446.8 845.6L1447.2 841.8M1448.0 845.1L1448.4 850.2L1449.2 858.8L1450.0 857.1L1450.8 849.6L1451.5 842.3L1452.3 840.7L1453.1 849.4L1453.9 864.5L1454.7 877.2L1455.5 879.3L1456.3 870.9L1457.0 859.8L1457.8 852.9L1458.6 854.0L1459.4 857.1L1460.2 854.0L1461.0 838.1L1461.8 813.0L1462.6 783.9L1463.3 756.9L1464.1 738.2L1464.9 733.1L1465.7 742.2L1466.5 759.9L1467.3 780.7L1468.1 800.0L1468.8 813.6L1469.6 818.0L1470.4 813.9L1471.2 809.0L1472.0 804.2L1472.8 800.4L1473.6 798.6L1474.3 802.6L1475.1 811.7L1475.9 820.3L1476.7 822.5L1477.5 813.7L1478.3 797.0L1479.1 777.7L1479.9 761.0L1480.6 752.1L1481.4 754.9L1482.2 766.7L1483.0 783.0L1483.8 799.6L1484.6 812.1L1485.4 816.2L1486.1 809.6L1486.9 797.7L1487.7 786.9L1488.5 783.4L1489.3 786.9L1490.1 792.1L1490.9 795.0L1491.6 791.6L1492.4 780.7L1493.2 768.7L1494.0 762.2L1494.8 762.7L1495.6 766.2L1496.4 771.1L1497.2 776.2L1497.9 779.9L1498.7 780.5L1499.5 773.5L1500.3 760.9L1501.1 748.1L1501.9 740.4L1502.7 743.6L1503.4 754.8L1504.2 760.6L1505.0 754.1L1505.8 741.2L1506.6 729.5L1507.4 729.0L1508.2 745.2L1509.0 769.5L1509.7 791.1L1510.5 799.0L1511.3 792.3L1512.1 780.2L1512.9 771.7L1513.7 773.8L1514.5 783.5L1515.2 792.8L1516.0 793.1L1516.8 783.7L1517.6 769.0L1518.4 753.9L1519.2 744.0L1520.0 742.1L1520.7 743.1L1521.5 746.0L1522.3 749.9L1523.1 754.1L1523.9 758.5L1524.7 765.5L1525.5 774.3L1526.3 782.8L1527.0 791.1L1527.8 799.5L1528.6 804.3L1529.4 801.0L1530.2 786.0L1531.0 767.9L1531.8 756.2L1532.5 759.7L1533.3 776.2L1534.1 795.9L1534.9 808.9L1535.7 805.8L1536.5 789.3L1537.3 771.0L1538.0 762.6L1538.8 769.9L1539.6 783.2L1540.4 793.9L1541.2 794.3L1542.0 786.5L1542.8 778.1L1543.6 776.4L1544.3 785.2L1545.1 797.4L1545.9 804.3L1546.7 799.5L1547.5 786.8L1548.3 772.6L1549.1 763.0L1549.8 763.9L1550.6 774.3L1551.4 790.0L1552.2 807.2L1553.0 822.0L1553.8 831.0L1554.6 830.8L1555.3 822.3L1556.1 809.8L1556.9 796.9L1557.7 787.3L1558.5 784.9L1559.3 790.0L1560.1 799.4L1560.9 810.5L1561.6 819.8L1562.4 824.0L1563.2 819.2L1564.0 807.0L1564.8 791.6L1565.6 773.9L1566.4 759.8L1567.1 749.6L1567.9 749.5L1568.7 762.7L1569.5 780.5L1570.3 795.0L1571.1 799.0L1571.9 791.5L1572.7 776.2L1573.4 757.2L1574.2 740.3L1575.0 734.1L1575.8 745.1L1576.6 763.6L1577.4 782.5L1578.2 795.9L1578.9 798.9L1579.7 792.8L1580.5 784.5L1581.3 778.3L1582.1 778.2L1582.9 784.1L1583.7 791.9L1584.4 797.5L1585.2 797.5L1586.0 792.0L1586.8 783.0L1587.6 772.6L1588.4 763.0L1589.2 756.2L1590.0 753.6L1590.7 753.9L1591.5 755.4L1592.3 757.9L1593.1 761.9L1593.9 767.9L1594.7 775.7L1595.5 787.9L1596.2 807.8L1597.0 827.4L1597.8 838.9L1598.6 835.7L1599.4 820.0L1600.2 798.7L1601.0 778.3L1601.7 764.6L1602.5 753.3L1603.3 743.6L1604.1 735.8L1604.9 730.1L1605.7 726.7L1606.5 732.8L1607.3 752.3L1608.0 776.0L1608.8 794.1L1609.6 796.7L1610.4 781.9L1611.2 760.0L1612.0 742.6L1612.8 739.3L1613.5 745.2L1614.3 753.7L1615.1 757.5L1615.9 754.3L1616.7 750.3L1617.5 750.5L1618.3 759.9L1619.1 773.1L1619.8 783.4L1620.6 784.6L1621.4 774.9L1622.2 759.7L1623.0 744.4L1623.8 734.5L1624.6 734.8L1625.3 743.3L1626.1 756.0L1626.9 769.2L1627.7 779.4L1628.5 782.6L1629.3 774.1L1630.1 759.4L1630.8 746.3L1631.6 742.4L1632.4 748.4L1633.2 758.0L1634.0 766.1L1634.8 767.9L1635.6 763.9L1636.4 758.8L1637.1 753.5L1637.9 748.3L1638.7 743.8L1639.5 740.6L1640.3 738.4L1641.1 737.0L1641.9 736.5L1642.6 736.9L1643.4 737.9L1644.2 739.1L1645.0 740.8L1645.8 744.8L1646.6 750.5L1647.4 757.1L1648.1 763.5L1648.9 767.9L1649.7 767.4L1650.5 756.9L1651.3 740.3L1652.1 723.5L1652.9 711.9L1653.7 709.8L1654.4 717.2L1655.2 725.6L1656.0 726.5L1656.8 721.8L1657.6 717.4L1658.4 717.9L1659.2 727.4L1659.9 740.3L1660.7 749.1L1661.5 747.3L1662.3 731.2L1663.1 708.5L1663.9 687.6L1664.7 676.7L1665.5 680.1L1666.2 689.0L1667.0 693.5L1667.8 691.2L1668.6 687.8L1669.4 688.5L1670.2 697.9L1671.0 712.1L1671.7 726.2L1672.5 735.4L1673.3 735.6L1674.1 728.6L1674.9 718.3L1675.7 707.6L1676.5 699.5L1677.2 695.3L1678.0 692.2L1678.8 691.0L1679.6 692.0L1680.4 697.2L1681.2 712.2L1682.0 731.0L1682.8 746.7L1683.5 753.2L1684.3 746.9L1685.1 733.8L1685.9 722.1L1686.7 719.5L1687.5 725.6L1688.3 733.0L1689.0 735.2L1689.8 731.2L1690.6 725.4L1691.4 722.1L1692.2 725.3L1693.0 736.5L1693.8 751.8L1694.5 767.3L1695.3 778.8L1696.1 781.9L1696.9 769.9L1697.7 747.4L1698.5 722.7L1699.3 704.0L1700.1 699.0L1700.8 710.2L1701.6 728.3L1702.4 743.3L1703.2 745.2L1704.0 731.4L1704.8 712.4L1705.6 699.6L1706.3 701.3L1707.1 712.0L1707.9 727.1L1708.7 741.8L1709.5 752.0L1710.3 754.6L1711.1 742.9L1711.9 729.6L1712.6 716.5L1713.4 708.3L1714.2 710.1L1715.0 723.7L1715.8 741.9L1716.6 756.0L1717.4 759.4L1718.1 752.1L1718.9 742.2L1719.7 730.8L1720.5 719.7L1721.3 710.9L1722.1 715.3L1722.9 737.0L1723.6 765.2L1724.4 788.9L1725.2 797.3L1726.0 792.2L1726.8 781.6L1727.6 769.8L1728.4 761.2L1729.2 758.3L1729.9 755.5L1730.7 752.7L1731.5 750.4L1732.3 749.8L1733.1 751.3L1733.9 763.1L1734.7 779.9L1735.4 789.9L1736.2 785.8L1737.0 774.6L1737.8 763.1L1738.6 757.7L1739.4 764.4L1740.2 782.9L1740.9 804.4L1741.7 820.0L1742.5 822.2L1743.3 815.4L1744.1 805.6L1744.9 794.9L1745.7 785.3L1746.5 778.3L1747.2 774.5L1748.0 771.9L1748.8 769.6L1749.6 767.2L1750.4 763.9L1751.2 757.4L1752.0 751.5L1752.7 750.8L1753.5 755.7L1754.3 761.2L1755.1 762.7L1755.9 758.5L1756.7 752.5L1757.5 747.7L1758.3 751.8L1759.0 767.3L1759.8 782.9L1760.6 787.6L1761.4 782.1L1762.2 773.1L1763.0 765.3L1763.8 764.0L1764.5 773.8L1765.3 785.9L1766.1 789.0L1766.9 785.7L1767.7 781.5L1768.5 778.2L1769.3 777.8L1770.0 782.8L1770.8 788.8L1771.6 790.4L1772.4 782.7L1773.2 770.2L1774.0 758.5L1774.8 753.4L1775.6 756.8L1776.3 761.0L1777.1 759.4L1777.9 750.6L1778.7 738.3L1779.5 726.2L1780.3 717.6L1781.1 714.9L1781.8 716.5L1782.6 720.3L1783.4 725.1L1784.2 730.0L1785.0 734.1L1785.8 736.2L1786.6 735.3L1787.3 732.1L1788.1 727.4L1788.9 722.2L1789.7 717.8L1790.5 715.3L1791.3 715.7L1792.1 718.1L1792.9 720.2L1793.6 721.1L1794.4 721.7L1795.2 722.9L1796.0 725.3L1796.8 728.5L1797.6 731.8L1798.4 734.5L1799.1 736.6L1799.9 739.5L1800.7 755.3L1801.5 779.1L1802.3 797.2L1803.1 798.1L1803.9 788.5L1804.7 772.8L1805.4 755.0L1806.2 739.7L1807.0 731.7L1807.8 734.9L1808.6 747.8L1809.4 762.3L1810.2 770.5L1810.9 764.4L1811.7 746.5L1812.5 727.0L1813.3 715.6L1814.1 718.0L1814.9 725.8L1815.7 733.4L1816.4 735.4L1817.2 730.5L1818.0 723.0L1818.8 716.5L1819.6 714.3L1820.4 717.8L1821.2 724.7L1822.0 733.1L1822.7 740.6L1823.5 744.8L1824.3 745.0L1825.1 743.0L1825.9 740.6L1826.7 740.3L1827.5 746.6L1828.2 756.6L1829.0 763.6L1829.8 761.1L1830.6 749.0L1831.4 733.6L1832.2 721.4L1833.0 718.5L1833.7 720.9L1834.5 725.4L1835.3 731.0L1836.1 736.5L1836.9 740.6L1837.7 742.1L1838.5 738.3L1839.3 732.3L1840.0 728.3L1840.8 728.9L1841.6 730.6L1842.4 732.8L1843.2 734.2L1844.0 726.2L1844.8 711.5L1845.5 696.9L1846.3 689.5L1847.1 693.2L1847.9 702.5L1848.7 712.3L1849.5 717.6L1850.3 718.2L1851.0 717.5L1851.8 716.9L1852.6 714.4L1853.4 712.7L1854.2 706.2L1855.0 690.9L1855.8 675.0L1856.6 663.4L1857.3 663.1L1858.1 683.1L1858.9 714.0L1859.7 739.5L1860.5 745.6L1861.3 743.9L1862.1 743.7L1862.8 749.5L1863.6 765.8L1864.4 783.6L1865.2 789.5L1866.0 779.6L1866.8 763.1L1867.6 749.1L1868.4 746.3L1869.1 755.4L1869.9 768.0L1870.7 774.5L1871.5 771.1L1872.3 762.7L1873.1 753.6L1873.9 749.1L1874.6 753.3L1875.4 763.2L1876.2 774.2L1877.0 781.0L1877.8 779.6L1878.6 772.9L1879.4 763.5L1880.1 754.0L1880.9 747.0L1881.7 744.6L1882.5 749.4L1883.3 762.9L1884.1 777.5L1884.9 785.7L1885.7 784.2L1886.4 780.4L1887.2 775.5L1888.0 770.3L1888.8 765.9L1889.6 763.7L1890.4 763.3L1891.2 763.7L1891.9 764.0L1892.7 764.3L1893.5 764.7L1894.3 765.5L1895.1 766.2L1895.9 764.5L1896.7 761.0L1897.4 756.9L1898.2 754.0L1899.0 753.7L1899.8 754.4L1900.6 754.3L1901.4 751.7L1902.2 746.4L1903.0 739.9L1903.7 734.2L1904.5 731.2L1905.3 731.0L1906.1 730.8L1906.9 730.1L1907.7 728.9L1908.5 727.4L1909.2 729.9L1910.0 740.5L1910.8 750.3L1911.6 751.6L1912.4 750.9L1913.2 750.5L1914.0 750.5L1914.8 751.5L1915.5 756.2L1916.3 763.4L1917.1 769.7L1917.9 772.3L1918.7 770.7L1919.5 766.0L1920.3 759.7L1921.0 753.7L1921.8 751.0L1922.6 756.2L1923.4 767.1L1924.2 780.1L1925.0 791.2L1925.8 796.6L1926.5 792.7L1927.3 779.7L1928.1 761.4L1928.9 741.5L1929.7 723.3L1930.5 710.0L1931.3 704.7L1932.1 711.5L1932.8 727.4L1933.6 745.6L1934.4 759.3L1935.2 762.3L1936.0 759.6L1936.8 754.6L1937.6 751.1L1938.3 749.9L1939.1 749.8L1939.9 748.6L1940.7 742.9L1941.5 736.0L1942.3 731.5L1943.1 733.6L1943.8 740.7L1944.6 748.5L1945.4 752.1L1946.2 752.4L1947.0 751.5L1947.8 749.3L1948.6 749.6L1949.4 755.0L1950.1 760.1L1950.9 760.2L1951.7 759.1L1952.5 758.7L1953.3 759.8L1954.1 763.1L1954.9 767.2L1955.6 770.1L1956.4 767.8L1957.2 759.3L1958.0 750.4L1958.8 746.7L1959.6 751.6L1960.4 761.4L1961.2 771.2L1961.9 776.0L1962.7 772.4L1963.5 763.9L1964.3 755.3L1965.1 751.2L1965.9 752.5L1966.7 755.0L1967.4 758.3L1968.2 761.5L1969.0 764.0L1969.8 766.5L1970.6 776.4L1971.4 791.3L1972.2 806.1L1972.9 815.3L1973.7 815.6L1974.5 811.2L1975.3 804.3L1976.1 796.9L1976.9 791.3L1977.7 789.6L1978.5 793.2L1979.2 800.6L1980.0 808.9L1980.8 815.5L1981.6 818.0L1982.4 816.6L1983.2 812.4L1984.0 806.3L1984.7 799.2L1985.5 792.2L1986.3 786.5L1987.1 782.6L1987.9 780.9L1988.7 782.1L1989.5 792.3L1990.2 809.2L1991.0 827.0L1991.8 839.5L1992.6 841.0L1993.4 834.3L1994.2 825.3L1995.0 820.3L1995.8 819.7L1996.5 819.7L1997.3 822.4L1998.1 824.0L1998.5 828.1" stroke="#889944" fill="none" stroke-width="4" stroke-linejoin="round" stroke-linecap="butt"/>
<path d="M131.9 1275.8L132.7 1273.0L133.5 1271.2L134.3 1270.4L135.0 1270.0L135.8 1268.5L136.6 1268.4L137.4 1267.6L138.2 1266.0L139.0 1263.3L139.8 1259.3L140.6 1254.1L141.3 1247.9L142.1 1241.1L142.9 1233.7L143.7 1226.4L144.5 1219.5L145.3 1213.4L146.1 1208.4L146.8 1204.9L147.6 1203.1L148.4 1203.0L149.2 1204.0L150.0 1204.9L150.8 1205.1L151.6 1204.4L152.3 1203.6L153.1 1203.3L153.9 1203.7L154.7 1204.5L155.5 1204.8L156.3 1203.8L157.1 1201.3L157.9 1197.7L158.6 1195.0L159.4 1194.0L160.2 1194.8L161.0 1196.7L161.8 1199.1L162.6 1201.9L163.4 1205.4L164.1 1210.3L164.9 1216.9L165.7 1224.7L166.5 1232.3L167.3 1238.4L168.1 1242.6L168.9 1245.0L169.6 1246.4L170.4 1247.4L171.2 1248.4L172.0 1249.3L172.8 1249.5L173.6 1248.9L174.4 1247.6L175.2 1245.7L175.9 1243.6L176.7 1241.6L177.5 1239.6L178.3 1237.1L179.1 1233.5L179.9 1229.1L180.7 1224.2L181.4 1219.8L182.2 1216.5L183.0 1215.1L183.8 1215.2L184.6 1216.2L185.4 1217.0L186.2 1217.5L187.0 1217.6L187.7 1217.8L188.5 1219.1L189.3 1222.1L190.1 1226.7L190.9 1231.7L191.7 1236.0L192.5 1239.2L193.2 1241.7L194.0 1244.3L194.8 1247.7L195.6 1251.9L196.4 1256.3L197.2 1259.7L198.0 1261.4L198.7 1261.4L199.5 1260.0L200.3 1258.1L201.1 1256.2L201.9 1254.4L202.7 1252.6L203.5 1250.6L204.3 1248.4L205.0 1246.4L205.8 1244.6L206.6 1243.3L207.4 1242.3L208.2 1241.7L209.0 1241.5L209.8 1241.9L210.5 1243.2L211.3 1245.5L212.1 1248.6L212.9 1252.1L213.7 1255.6L214.5 1258.6L215.3 1261.3L216.0 1263.8L216.8 1265.8L217.6 1266.7L218.4 1266.1L219.2 1263.8L220.0 1260.2L220.8 1256.0L221.6 1252.1L222.3 1249.3L223.1 1248.0L223.9 1247.3L224.7 1246.4L225.5 1245.2L226.3 1244.2L227.1 1244.2L227.8 1245.7L228.6 1248.8L229.4 1252.2L230.2 1254.4L231.0 1254.4L231.8 1252.3L232.6 1249.5L233.4 1247.5L234.1 1247.1L234.9 1247.9L235.7 1248.9L236.5 1249.0L237.3 1248.1L238.1 1247.1L238.9 1246.8L239.6 1247.7L240.4 1249.5L241.2 1251.3L242.0 1252.1L242.8 1251.8L243.6 1250.5L244.4 1248.9L245.1 1247.7L245.9 1247.3L246.7 1247.7L247.5 1248.7L248.3 1250.2L249.1 1252.1L249.9 1254.8L250.7 1258.1L251.4 1261.6L252.2 1264.9L253.0 1267.1L253.8 1267.9L254.6 1267.6L255.4 1266.5L256.2 1265.0L256.9 1263.9L257.7 1263.3L258.5 1263.3L259.3 1263.7L260.1 1264.5L260.9 1265.6L261.7 1267.4L262.4 1269.7L263.2 1272.5L264.0 1276.0L264.8 1279.6L265.6 1282.7L266.4 1284.7L267.2 1285.3L268.0 1284.7L268.7 1283.3L269.5 1281.7L270.3 1280.4L271.1 1280.3L271.9 1278.2L272.7 1275.8L273.5 1272.8L274.2 1269.7L275.0 1266.9L275.8 1264.7L276.6 1263.5L277.4 1263.5L278.2 1264.2L279.0 1264.7L279.8 1265.2L280.5 1266.1L281.3 1266.4L282.1 1265.7L282.9 1263.8L283.7 1260.7L284.5 1256.6L285.3 1251.7L286.0 1246.3L286.8 1240.5L287.6 1235.0L288.4 1230.1L289.2 1226.1L290.0 1223.2L290.8 1222.0L291.5 1222.3L292.3 1224.1L293.1 1226.4L293.9 1228.1L294.7 1228.9L295.5 1229.2L296.3 1229.6L297.1 1230.5L297.8 1231.6L298.2 1232.2M299.0 1233.3L299.4 1233.2L300.2 1231.7L301.0 1228.2L301.8 1223.4L302.6 1219.0L303.3 1216.0L304.1 1214.4L304.9 1213.3L305.7 1212.4L306.5 1211.5L307.3 1210.9L308.1 1211.3L308.8 1213.5L309.6 1217.1L310.4 1221.0L311.2 1223.8L312.0 1224.9L312.8 1224.6L313.6 1223.6L314.4 1222.6L315.1 1221.9L315.9 1221.5L316.7 1220.8L317.5 1219.5L318.3 1217.8L319.1 1216.0L319.9 1214.2L320.6 1212.8L321.4 1211.6L322.2 1210.1L323.0 1207.6L323.8 1204.2L324.6 1200.2L325.4 1196.4L326.1 1193.6L326.9 1192.3L327.7 1192.4L328.5 1193.1L329.3 1193.5L330.1 1193.2L330.9 1192.3L331.7 1191.3L332.4 1191.1L333.2 1192.6L334.0 1195.7L334.8 1199.3L335.6 1202.3L336.4 1204.5L337.2 1206.2L337.9 1208.2L338.7 1211.2L339.5 1215.4L340.3 1220.1L341.1 1224.0L341.9 1226.4L342.7 1227.0L343.5 1226.7L344.2 1226.3L345.0 1226.2L345.8 1226.4L346.6 1226.7L347.4 1226.7L348.2 1226.5L349.0 1226.2L349.7 1226.0L350.5 1226.0L351.3 1226.2L352.1 1226.9L352.9 1227.8L353.7 1229.2L354.5 1231.4L355.2 1234.3L356.0 1237.9L356.8 1241.9L357.6 1245.9L358.4 1249.5L359.2 1252.6L360.0 1255.5L360.8 1257.8L361.5 1258.8L362.3 1258.2L363.1 1256.0L363.9 1252.5L364.7 1248.1L365.5 1244.0L366.3 1241.0L367.0 1239.4L367.8 1238.5L368.6 1237.0L369.4 1234.9L370.2 1232.7L371.0 1231.7L371.8 1232.5L372.5 1234.8L373.3 1237.4L374.1 1238.7L374.9 1238.0L375.7 1235.4L376.5 1232.3L377.3 1230.2L378.1 1229.8L378.8 1230.8L379.6 1232.1L380.4 1232.9L381.2 1232.8L382.0 1232.6L382.8 1233.2L383.6 1234.6L384.3 1236.7L385.1 1238.3L385.9 1238.7L386.7 1237.8L387.5 1235.6L388.3 1233.0L389.1 1230.5L389.9 1228.5L390.6 1227.0L391.4 1225.7L392.2 1224.5L393.0 1223.5L393.8 1223.0L394.6 1223.0L395.4 1223.4L396.1 1223.4L396.9 1222.6L397.7 1220.7L398.5 1217.8L399.3 1214.6L400.1 1211.4L400.9 1208.9L401.6 1207.5L402.4 1207.2L403.2 1207.8L404.0 1209.2L404.8 1211.3L405.6 1214.2L406.4 1217.7L407.2 1221.6L407.9 1225.8L408.7 1229.9L409.5 1233.1L410.3 1234.6L411.1 1234.2L411.9 1232.2L412.7 1229.3L413.4 1226.3L414.2 1223.9L415.0 1222.8L415.8 1219.0L416.6 1213.8L417.4 1207.5L418.2 1201.0L418.9 1194.9L419.7 1189.8L420.5 1186.0L421.3 1183.8L422.1 1182.7L422.9 1181.7L423.7 1181.0L424.5 1181.2L425.2 1180.9L426.0 1180.1L426.8 1178.4L427.6 1175.9L428.4 1172.7L429.2 1169.2L430.0 1165.5L430.7 1161.8L431.5 1158.6L432.3 1155.9L433.1 1154.0L433.9 1153.2L434.7 1153.8L435.5 1156.0L436.3 1159.3L437.0 1163.1L437.8 1166.2L438.6 1168.2L439.4 1169.5L440.2 1170.7L441.0 1172.3L441.8 1174.1L442.5 1175.5L443.3 1175.6L444.1 1173.9L444.9 1170.3L445.7 1166.3L446.5 1163.3L447.3 1161.8L448.0 1161.3L448.8 1161.2L449.6 1161.1L450.4 1161.1L451.2 1161.9L452.0 1164.1L452.8 1168.1L453.6 1173.1L454.3 1177.5L455.1 1180.4L455.9 1181.7L456.7 1181.9L457.5 1181.7L458.3 1181.7L459.1 1181.9L459.8 1182.0L460.6 1181.6L461.4 1180.5L462.2 1179.1L463.0 1177.6L463.8 1176.3L464.6 1175.3L465.3 1174.4L466.1 1172.7L466.9 1170.1L467.7 1166.7L468.5 1163.3L469.3 1160.4L470.1 1159.1L470.9 1159.3L471.6 1160.8L472.4 1162.4L473.2 1163.6L474.0 1164.2L474.8 1164.6L475.6 1165.3L476.4 1167.6L477.1 1171.6L477.9 1176.7L478.7 1181.6L479.5 1185.4L480.3 1188.1L481.1 1190.4L481.9 1193.3L482.7 1197.3L483.4 1202.0L484.2 1206.4L485.0 1209.5L485.8 1210.8L486.6 1210.5L487.4 1209.6L488.2 1208.7L488.9 1207.8L489.7 1206.9L490.5 1205.5L491.3 1203.6L492.1 1201.5L492.9 1199.3L493.7 1197.0L494.4 1194.9L495.2 1192.9L496.0 1191.1L496.8 1189.4L497.6 1188.1L498.4 1187.5L499.2 1187.4L500.0 1187.8L500.7 1188.3L501.5 1188.6L502.3 1188.6L503.1 1188.5L503.9 1188.6L504.7 1188.2L505.5 1187.1L506.2 1184.9L507.0 1182.0L507.8 1178.6L508.6 1175.7L509.4 1174.3L510.2 1175.0L511.0 1177.6L511.7 1181.1L512.5 1184.8L513.3 1188.9L514.1 1193.7L514.9 1200.1L515.7 1207.8L516.5 1215.8L517.3 1222.5L518.0 1226.4L518.8 1227.3L519.6 1226.0L520.4 1224.3L521.2 1223.3L522.0 1223.2L522.8 1222.9L523.5 1221.4L524.3 1218.1L525.1 1213.6L525.9 1209.1L526.7 1205.6L527.5 1203.3L528.3 1201.7L529.1 1199.6L529.8 1196.8L530.6 1193.1L531.4 1189.1L532.2 1185.4L533.0 1182.5L533.8 1180.7L534.6 1179.9L535.3 1179.7L536.1 1180.1L536.9 1181.3L537.7 1183.3L538.5 1185.9L539.3 1188.6L540.1 1190.7L540.8 1191.6L541.6 1191.1L542.4 1189.7L543.2 1187.8L544.0 1186.0L544.8 1184.7L545.6 1184.2L546.4 1184.3L547.1 1184.8L547.9 1185.8L548.7 1187.2L549.5 1189.0L550.3 1191.0L551.1 1193.2L551.9 1195.2L552.6 1196.6L553.4 1196.4L554.2 1193.9L555.0 1189.2L555.8 1183.1L556.6 1176.5L557.4 1169.9L558.1 1163.7L558.9 1156.8L559.7 1147.8L560.5 1138.1L561.3 1128.0L562.1 1118.1L562.9 1109.2L563.7 1101.8L564.4 1096.4L565.2 1093.4L566.0 1091.8L566.8 1090.2L567.6 1091.0L568.4 1092.0L569.2 1093.2L569.9 1094.7L570.7 1096.7L571.5 1098.9L572.3 1101.5L573.1 1104.6L573.9 1108.1L574.7 1111.7L575.5 1115.3L576.2 1118.8L577.0 1122.6L577.8 1126.9L578.6 1132.1L579.4 1138.1L580.2 1144.3L581.0 1149.4L581.7 1152.5L582.5 1153.7L583.3 1153.6L584.1 1153.0L584.9 1152.1L585.7 1150.8L586.5 1148.8L587.2 1145.2L588.0 1140.2L588.8 1134.2L589.6 1129.0L590.4 1125.5L591.2 1123.8L592.0 1123.1L592.8 1122.9L593.5 1123.1L594.3 1124.0L595.1 1126.4L595.9 1130.7L596.7 1136.8L597.5 1143.3L598.3 1148.7L599.0 1152.6L599.8 1155.2L600.6 1157.3L601.4 1159.7L602.2 1162.5L603.0 1165.8L603.8 1168.8L604.5 1171.4L605.3 1173.7L606.1 1175.8L606.9 1177.9L607.7 1180.3L608.5 1182.9L609.3 1184.8L610.1 1185.4L610.8 1184.6L611.6 1182.5L612.4 1180.0L613.2 1177.9L614.0 1176.8L614.8 1176.6L615.6 1176.6L616.3 1175.8L617.1 1173.7L617.9 1170.2L618.7 1165.9L619.5 1161.7L620.3 1158.6L621.1 1156.6L621.8 1154.9L622.6 1152.6L623.4 1149.8L624.2 1146.9L625.0 1144.9L625.8 1144.6L626.6 1146.0L627.4 1148.5L628.1 1150.8L628.9 1152.1L629.7 1152.4L630.5 1152.2L631.3 1152.6L632.1 1153.9L632.9 1156.0L633.6 1158.5L634.4 1160.7L635.2 1162.5L636.0 1163.9L636.8 1165.1L637.6 1166.2L638.4 1167.2L639.2 1168.3L639.9 1169.3L640.7 1170.4L641.5 1171.9L642.3 1173.7L643.1 1176.0L643.9 1178.3L644.7 1180.4L645.4 1182.0L646.2 1183.2L647.0 1184.3L647.8 1185.1L648.6 1184.9L649.4 1183.4L650.2 1180.6L650.9 1176.8L651.7 1172.6L652.5 1169.0L653.3 1166.8L654.1 1166.4L654.9 1167.0L655.7 1167.7L656.5 1168.3L657.2 1169.3L658.0 1171.3L658.8 1174.8L659.6 1179.7L660.4 1184.7L661.2 1188.3L662.0 1189.6L662.7 1188.6L663.5 1186.7L664.3 1185.4L665.1 1185.7L665.9 1187.1L666.7 1188.6L667.5 1189.1L668.2 1188.5L669.0 1187.7L669.8 1187.4L670.6 1188.0L671.4 1189.3L672.2 1190.1L673.0 1189.6L673.8 1187.5L674.5 1184.2L675.3 1180.2L676.1 1176.1L676.9 1172.4L677.7 1169.0L678.5 1165.9L679.3 1162.8L680.0 1160.0L680.8 1157.8L681.6 1156.4L682.4 1155.8L683.2 1155.3L684.0 1154.4L684.8 1152.5L685.6 1150.0L686.3 1147.1L687.1 1144.5L687.9 1142.7L688.7 1142.1L689.5 1142.7L690.3 1144.2L691.1 1146.6L691.8 1150.0L692.6 1154.7L693.4 1160.1L694.2 1165.8L695.0 1171.4L695.8 1176.5L696.6 1180.5L697.3 1182.7L698.1 1183.0L698.9 1181.5L699.7 1178.5L700.5 1174.6L701.3 1170.4L702.1 1166.8L702.9 1160.6L703.6 1153.4L704.4 1145.4L705.2 1136.9L706.0 1128.7L706.8 1121.4L707.6 1115.6L708.4 1111.7L709.1 1109.4L709.9 1107.6L710.7 1106.5L711.5 1106.9L712.3 1107.3L713.1 1107.3L713.9 1107.0L714.6 1106.9L715.4 1106.9L716.2 1107.2L717.0 1107.7L717.8 1108.4L718.6 1109.2L719.4 1109.8L720.2 1110.5L720.9 1111.8L721.7 1114.2L722.5 1117.6L723.3 1121.6L724.1 1125.3L724.9 1127.7L725.7 1128.3L726.4 1127.6L727.2 1126.2L728.0 1124.7L728.8 1123.3L729.6 1121.6L730.4 1118.9L731.2 1114.5L732.0 1108.8L732.7 1102.9L733.5 1098.4L734.3 1095.8L735.1 1094.6L735.9 1094.1L736.7 1094.0L737.5 1094.4L738.2 1095.8L739.0 1099.1L739.8 1104.4L740.6 1110.9L741.4 1117.1L742.2 1121.8L743.0 1124.8L743.7 1126.3L744.5 1127.2L745.3 1128.1L746.1 1129.0L746.9 1129.6L747.7 1129.6L748.5 1128.9L749.3 1127.6L750.0 1126.1L750.8 1124.7L751.6 1123.5L752.4 1122.1L753.2 1119.9L754.0 1116.6L754.8 1112.5L755.5 1108.3L756.3 1104.7L757.1 1102.5L757.9 1101.9L758.7 1102.3L759.5 1102.8L760.3 1102.7L761.0 1101.9L761.8 1100.7L762.6 1099.8L763.4 1100.2L764.2 1102.3L765.0 1105.5L765.8 1108.6L766.6 1110.8L767.3 1112.4L768.1 1113.8L768.9 1115.9L769.7 1119.3L770.5 1123.5L771.3 1127.7L772.1 1130.7L772.8 1132.0L773.6 1131.9L774.4 1131.2L775.2 1130.8L776.0 1130.7L776.8 1130.7L777.6 1130.4L778.4 1129.8L779.1 1129.0L779.9 1128.4L780.7 1128.0L781.5 1127.9L782.3 1128.2L783.1 1128.8L783.9 1129.9L784.6 1131.6L785.4 1133.9L786.2 1137.0L787.0 1140.6L787.8 1144.4L788.6 1148.0L789.4 1151.1L790.1 1153.8L790.9 1156.1L791.7 1157.4L792.5 1157.3L793.3 1155.6L794.1 1152.5L794.9 1148.5L795.7 1144.3L796.4 1141.0L797.2 1139.1L798.0 1138.4L798.8 1137.8L799.6 1136.8L800.4 1135.8L801.2 1135.3L801.9 1136.2L802.7 1138.7L803.5 1142.3L804.3 1145.4L805.1 1146.6L805.9 1145.5L806.7 1142.8L807.4 1140.2L808.2 1138.9L809.0 1139.3L809.8 1140.6L810.6 1141.5L811.4 1141.4L812.2 1140.6L813.0 1140.2L813.7 1140.7L814.5 1142.2L815.3 1144.0L816.1 1145.1L816.9 1145.0L817.7 1143.6L818.5 1141.4L819.2 1139.2L820.0 1137.5L820.8 1136.5L821.6 1136.2L822.4 1136.1L823.2 1136.5L824.0 1137.3L824.8 1138.9L825.5 1141.0L826.3 1143.1L827.1 1144.7L827.9 1145.2L828.7 1144.5L829.5 1142.9L830.3 1141.0L831.0 1139.3L831.8 1138.4L832.6 1138.4L833.4 1139.1L834.2 1140.5L835.0 1142.5L835.8 1145.1L836.5 1148.3L837.3 1151.9L838.1 1156.0L838.9 1160.4L839.7 1164.4L840.5 1167.4L841.3 1169.0L842.1 1169.0L842.8 1167.9L843.6 1166.2L844.4 1164.2L845.2 1163.0L846.0 1161.4L846.8 1158.4L847.6 1154.7L848.3 1150.6L849.1 1146.5L849.9 1142.9L850.7 1140.1L851.5 1138.5L852.3 1138.0L853.1 1138.0L853.8 1137.0L854.6 1137.6L855.4 1137.6L856.2 1136.8L857.0 1135.2L857.8 1132.4L858.6 1128.6L859.4 1124.1L860.1 1119.0L860.9 1113.6L861.7 1108.0L862.5 1102.8L863.3 1098.1L864.1 1094.1L864.9 1091.4L865.6 1090.0L866.4 1090.0L867.2 1090.6L868.0 1090.9L868.8 1090.1L869.6 1088.1L870.4 1085.7L871.2 1083.5L871.9 1081.7L872.7 1080.1M873.5 1078.8L874.3 1076.1L875.1 1071.8L875.9 1066.2L876.7 1060.5L877.4 1056.3L878.2 1054.1L879.0 1053.5L879.8 1053.8L880.6 1054.7L881.4 1056.1L882.2 1058.7L882.9 1063.3L883.7 1070.0L884.5 1077.9L885.3 1085.1L886.1 1090.6L886.9 1094.5L887.7 1097.2L888.5 1099.7L889.2 1102.4L890.0 1105.5L890.8 1108.3L891.6 1110.5L892.4 1112.0L893.2 1113.0L894.0 1113.7L894.7 1114.5L895.5 1115.3L896.3 1115.9L897.1 1115.3L897.9 1113.5L898.7 1110.7L899.5 1107.4L900.2 1104.4L901.0 1102.5L901.8 1101.7L902.6 1101.8L903.4 1101.7L904.2 1100.8L905.0 1098.8L905.8 1096.0L906.5 1093.1L907.3 1091.1L908.1 1090.5L908.9 1090.8L909.7 1091.0L910.5 1090.4L911.3 1089.3L912.0 1088.4L912.8 1088.5L913.6 1090.2L914.4 1093.3L915.2 1096.6L916.0 1099.2L916.8 1100.4L917.5 1100.6L918.3 1100.8L919.1 1101.6L919.9 1103.0L920.7 1104.7L921.5 1106.2L922.3 1107.3L923.1 1107.9L923.8 1108.2L924.6 1108.4L925.4 1108.5L926.2 1108.5L927.0 1108.6L927.8 1108.9L928.6 1109.4L929.3 1110.4L930.1 1111.9L930.9 1113.6L931.7 1115.3L932.5 1116.6L933.3 1117.3L934.1 1117.9L934.9 1118.4L935.6 1118.2L936.4 1117.1L937.2 1114.7L938.0 1111.4L938.8 1107.4L939.6 1103.5L940.4 1100.9L941.1 1100.2L941.9 1101.2L942.7 1102.7L943.5 1104.2L944.3 1105.8L945.1 1108.0L945.9 1111.4L946.6 1116.3L947.4 1121.8L948.2 1126.3L949.0 1128.4L949.8 1127.7L950.6 1124.9L951.4 1121.6L952.2 1119.2L952.9 1118.0L953.7 1117.2L954.5 1115.5L955.3 1112.4L956.1 1108.4L956.9 1104.6L957.7 1101.9L958.4 1100.5L959.2 1099.8L960.0 1098.8L960.8 1096.9L961.6 1094.3L962.4 1091.2L963.2 1088.4L963.9 1086.4L964.7 1085.5L965.5 1085.6L966.3 1086.3L967.1 1087.8L967.9 1090.2L968.7 1093.5L969.5 1097.4L970.2 1101.2L971.0 1104.1L971.8 1105.7L972.6 1105.8L973.4 1104.8L974.2 1103.2L975.0 1101.6L975.7 1100.5L976.5 1100.0L977.3 1100.0L978.1 1100.2L978.9 1100.8L979.7 1101.6L980.5 1102.8L981.3 1104.2L982.0 1105.8L982.8 1107.8L983.6 1109.4L984.4 1110.3L985.2 1109.9L986.0 1108.5L986.8 1106.4L987.5 1104.2L988.3 1102.1L989.1 1101.1L989.9 1099.9L990.7 1097.4L991.5 1094.5L992.3 1091.3L993.0 1088.2L993.8 1085.9L994.6 1084.6L995.4 1084.5L996.2 1085.6L997.0 1087.1L997.8 1087.6L998.6 1089.8L999.3 1091.4L1000.1 1092.4L1000.9 1092.7L1001.7 1092.0L1002.5 1090.2L1003.3 1087.7L1004.1 1084.5L1004.8 1080.9L1005.6 1077.1L1006.4 1073.6L1007.2 1070.6L1008.0 1068.3L1008.8 1067.1L1009.6 1067.3L1010.3 1068.7L1011.1 1070.8L1011.9 1072.5L1012.7 1073.0L1013.5 1072.5L1014.3 1071.5L1015.1 1070.6L1015.9 1070.1L1016.6 1069.8L1017.4 1068.8L1018.2 1066.2L1019.0 1061.9L1019.8 1056.5L1020.6 1051.8L1021.4 1048.6L1022.1 1047.0L1022.9 1046.3L1023.7 1045.9L1024.5 1045.7L1025.3 1046.0L1026.1 1047.6L1026.9 1051.0L1027.7 1056.0L1028.4 1061.4L1029.2 1065.6L1030.0 1068.2L1030.8 1069.3L1031.6 1069.6L1032.4 1069.8L1033.2 1070.2L1033.9 1070.8L1034.7 1071.1L1035.5 1070.8L1036.3 1069.9L1037.1 1068.9L1037.9 1067.9L1038.7 1067.1L1039.4 1066.7L1040.2 1065.8L1041.0 1064.0L1041.8 1061.2L1042.6 1057.9L1043.4 1054.7L1044.2 1052.3L1045.0 1051.5L1045.7 1052.0L1046.5 1053.1L1047.3 1053.8L1048.1 1053.8L1048.9 1053.2L1049.7 1052.5L1050.5 1052.5L1051.2 1054.2L1052.0 1057.4L1052.8 1061.1L1053.6 1064.1L1054.4 1066.3L1055.2 1068.0L1056.0 1070.0L1056.7 1073.0L1057.5 1077.3L1058.3 1082.0L1059.1 1086.0L1059.9 1088.4L1060.7 1089.2L1061.5 1088.9L1062.3 1088.6L1063.0 1088.6L1063.8 1088.9L1064.6 1089.1L1065.4 1089.0L1066.2 1088.6L1067.0 1088.0L1067.8 1087.4L1068.5 1086.9L1069.3 1086.5L1070.1 1086.4L1070.9 1086.4L1071.7 1086.9L1072.5 1087.9L1073.3 1089.6L1074.1 1091.8L1074.8 1094.3L1075.6 1096.7L1076.4 1098.6L1077.2 1100.0L1078.0 1101.2L1078.8 1102.0L1079.6 1101.8L1080.3 1100.3L1081.1 1097.1L1081.9 1092.7L1082.7 1087.5L1083.5 1082.6L1084.3 1079.0L1085.1 1076.8L1085.8 1075.4L1086.6 1073.8L1087.4 1072.2L1088.2 1070.9L1089.0 1070.8L1089.8 1072.4L1090.6 1075.5L1091.4 1079.1L1092.1 1081.5L1092.9 1081.7L1093.7 1080.0L1094.5 1077.3L1095.3 1075.5L1096.1 1075.2L1096.9 1076.3L1097.6 1077.7L1098.4 1078.2L1099.2 1078.0L1100.0 1077.6L1100.8 1078.0L1101.6 1079.5L1102.4 1081.8L1103.1 1083.9L1103.9 1084.9L1104.7 1084.7L1105.5 1083.4L1106.3 1081.7L1107.1 1080.3L1107.9 1079.6L1108.7 1079.6L1109.4 1080.0L1110.2 1080.7L1111.0 1081.8L1111.8 1083.4L1112.6 1085.7L1113.4 1088.1L1114.2 1090.1L1114.9 1091.0L1115.7 1090.4L1116.5 1088.5L1117.3 1085.7L1118.1 1082.5L1118.9 1079.4L1119.7 1076.9L1120.5 1075.0L1121.2 1073.4L1122.0 1072.1L1122.8 1071.0L1123.6 1070.2L1124.4 1069.8L1125.2 1069.9L1126.0 1070.4L1126.7 1071.1L1127.5 1071.3L1128.3 1070.2L1129.1 1067.8L1129.9 1064.2L1130.7 1059.9L1131.5 1055.2L1132.2 1050.9L1133.0 1047.8L1133.8 1042.7L1134.6 1037.3L1135.4 1031.6L1136.2 1025.9L1137.0 1021.1L1137.8 1017.5L1138.5 1015.6L1139.3 1015.5L1139.7 1016.0L1140.1 1115.3L1140.9 1061.0L1141.7 1018.2L1142.5 987.3L1143.3 967.1L1144.0 957.3L1144.8 961.9L1145.6 987.5L1146.4 1019.2L1147.2 1041.0L1148.0 1040.3L1148.8 1033.7L1149.5 1027.9L1150.3 1029.1L1151.1 1036.5L1151.9 1042.2L1152.7 1039.4L1153.5 1029.6L1154.3 1017.0L1155.1 1005.5L1155.8 998.5L1156.6 1000.7L1157.4 1013.6L1158.2 1032.8L1159.0 1053.6L1159.8 1070.6L1160.6 1078.3L1161.3 1070.9L1162.1 1050.7L1162.9 1025.9L1163.7 1005.3L1164.5 997.3L1165.3 996.0L1166.1 995.7L1166.9 993.7L1167.6 990.3L1168.4 987.7L1169.2 991.0L1170.0 1003.9L1170.8 1023.5L1171.6 1045.8L1172.4 1065.8L1173.1 1079.2L1173.9 1082.7L1174.7 1072.5L1175.5 1054.0L1176.3 1034.7L1177.1 1022.0L1177.9 1024.0L1178.6 1042.6L1179.4 1057.8L1180.2 1056.0L1181.0 1049.7L1181.8 1043.8L1182.6 1042.3L1183.4 1047.8L1184.2 1056.9L1184.9 1065.4L1185.7 1069.6L1186.5 1065.9L1187.3 1050.5L1188.1 1028.4L1188.9 1005.8L1189.7 987.8L1190.4 979.5L1191.2 988.3L1192.0 1012.6L1192.8 1040.6L1193.6 1061.0L1194.4 1064.5L1195.2 1059.9L1195.9 1052.1L1196.7 1042.3L1197.5 1032.4L1198.3 1024.8L1199.1 1022.6L1199.9 1026.8L1200.7 1034.3L1201.5 1041.4L1202.2 1044.6L1203.0 1044.7L1203.8 1044.2L1204.6 1048.4L1205.4 1058.6L1206.2 1069.0L1207.0 1073.3L1207.7 1067.0L1208.5 1054.9L1209.3 1044.3L1210.1 1043.2L1210.9 1055.3L1211.7 1072.2L1212.5 1083.9L1213.3 1082.2L1214.0 1070.3L1214.8 1054.7L1215.6 1041.7L1216.4 1037.5L1217.2 1041.0L1218.0 1047.1L1218.8 1053.7L1219.5 1058.3L1220.3 1060.2L1221.1 1062.0L1221.9 1075.9L1222.7 1104.8L1223.5 1112.4L1224.3 1091.6L1225.0 1057.5L1225.8 1023.2L1226.6 1002.4L1227.4 1006.9L1228.2 1031.1L1229.0 1060.9L1229.8 1081.4L1230.6 1082.7L1231.3 1077.3L1232.1 1072.4L1232.9 1073.8L1233.7 1079.5L1234.5 1085.9L1235.3 1089.4L1236.1 1086.9L1236.8 1079.6L1237.6 1069.5L1238.4 1059.5L1239.2 1052.3L1240.0 1049.5L1240.8 1051.5L1241.6 1056.2L1242.3 1062.1L1243.1 1068.5L1243.9 1075.5L1244.7 1082.6L1245.5 1088.9L1246.3 1092.7L1247.1 1092.3L1247.9 1087.8L1248.6 1080.4L1249.4 1071.8L1250.2 1063.8L1251.0 1058.1L1251.8 1056.2L1252.6 1056.7L1253.4 1058.0L1254.1 1059.6L1254.9 1060.9L1255.7 1059.6L1256.5 1057.0L1257.3 1055.3L1258.1 1056.1L1258.9 1059.1L1259.6 1062.8L1260.4 1066.4L1261.2 1069.4L1262.0 1071.4L1262.8 1071.7L1263.6 1068.5L1264.4 1063.1L1265.2 1057.0L1265.9 1052.0L1266.7 1050.1L1267.5 1053.1L1268.3 1064.6L1269.1 1081.9L1269.9 1100.1L1270.7 1113.7L1271.4 1117.5L1272.2 1110.2L1273.0 1095.6L1273.8 1077.8L1274.6 1061.0L1275.4 1049.6L1276.2 1048.6L1277.0 1060.5L1277.7 1078.0L1278.5 1094.6L1279.3 1102.7L1280.1 1097.6L1280.9 1083.8L1281.7 1065.5L1282.5 1046.5L1283.2 1030.3L1284.0 1019.8L1284.8 1017.2L1285.6 1027.2L1286.4 1044.0L1287.2 1062.5L1288.0 1077.6L1288.7 1084.4L1289.5 1080.2L1290.3 1069.8L1291.1 1055.2L1291.9 1037.9L1292.7 1019.8L1293.5 1003.0L1294.3 989.1L1295.0 979.9L1295.8 978.5L1296.6 991.1L1297.4 1010.0L1298.2 1024.6L1299.0 1026.5L1299.8 1023.0L1300.5 1019.1L1301.3 1019.5L1302.1 1024.3L1302.9 1029.7L1303.7 1031.5L1304.5 1026.2L1305.3 1015.4L1306.0 1001.9L1306.8 989.9L1307.6 983.3L1308.4 979.9L1309.2 978.3L1310.0 977.7L1310.8 977.4L1311.6 977.3L1312.3 977.6L1313.1 979.5L1313.9 983.8L1314.7 991.9L1315.5 1002.6L1316.3 1012.6L1317.1 1019.9L1317.8 1022.8L1318.6 1021.9L1319.4 1020.3L1320.2 1018.6L1321.0 1016.9L1321.8 1014.9L1322.6 1012.4L1323.4 1009.8L1324.1 1007.6L1324.9 1006.5L1325.7 1007.3L1326.5 1009.6L1327.3 1012.3L1328.1 1014.6L1328.9 1015.9L1329.6 1016.4L1330.4 1018.3L1331.2 1022.2L1332.0 1027.1L1332.8 1031.1L1333.6 1031.6L1334.4 1026.6L1335.1 1018.8L1335.9 1012.0L1336.7 1011.0L1337.5 1017.5L1338.3 1026.4L1339.1 1030.9L1339.9 1027.7L1340.7 1019.0L1341.4 1008.0L1342.2 998.5L1343.0 994.8L1343.8 999.3L1344.6 1009.2L1345.4 1021.9L1346.2 1033.9L1346.9 1042.4L1347.7 1045.1L1348.5 1044.2L1349.3 1042.8L1350.1 1042.2L1350.9 1045.0L1351.7 1054.1L1352.4 1063.9L1353.2 1068.4L1354.0 1064.1L1354.8 1055.4L1355.6 1049.0L1356.4 1050.3L1357.2 1057.5L1358.0 1065.7L1358.7 1069.9L1359.5 1068.3L1360.3 1063.8L1361.1 1058.0L1361.9 1052.0L1362.7 1047.1L1363.5 1044.4L1364.2 1045.2L1365.0 1048.7L1365.8 1053.2L1366.6 1057.0L1367.4 1058.3L1368.2 1056.1L1369.0 1051.5L1369.8 1045.9L1370.5 1040.8L1371.3 1037.4L1372.1 1036.3L1372.9 1037.3L1373.7 1040.4L1374.5 1044.6L1375.3 1049.4L1376.0 1054.6L1376.8 1059.8L1377.6 1063.8L1378.4 1066.1L1379.2 1066.3L1380.0 1065.2L1380.8 1064.4L1381.5 1066.7L1382.3 1071.3L1383.1 1076.7L1383.9 1080.0L1384.7 1082.0L1385.5 1082.8L1386.3 1082.4L1387.1 1081.4L1387.8 1080.6L1388.6 1077.6L1389.4 1073.2L1390.2 1068.6L1391.0 1065.3L1391.8 1065.1L1392.6 1067.6L1393.3 1069.7L1394.1 1068.2L1394.9 1057.2L1395.7 1041.3L1396.5 1027.8L1397.3 1023.8L1398.1 1032.8L1398.8 1049.0L1399.6 1065.3L1400.4 1074.2L1401.2 1074.6L1402.0 1070.6L1402.8 1063.2L1403.6 1053.7L1404.4 1044.1L1405.1 1036.0L1405.9 1031.5L1406.7 1031.8L1407.5 1035.4L1408.3 1041.1L1409.1 1047.8L1409.9 1054.5L1410.6 1060.5L1411.4 1063.9L1412.2 1062.2L1413.0 1057.5L1413.8 1051.4L1414.6 1045.3L1415.4 1040.8L1416.2 1039.7L1416.9 1050.3L1417.7 1070.8L1418.5 1090.5L1419.3 1098.6L1420.1 1087.8L1420.9 1063.2L1421.7 1039.6L1422.4 1030.2L1423.2 1033.8L1424.0 1039.6L1424.8 1038.1L1425.6 1021.3L1426.4 996.3L1427.2 972.7L1427.9 959.2L1428.7 961.5L1429.5 972.5L1430.3 987.8L1431.1 1004.4L1431.9 1019.7L1432.7 1030.7L1433.5 1035.0L1434.2 1031.6L1435.0 1025.1L1435.8 1017.2L1436.6 1008.8L1437.4 1001.0L1438.2 992.8L1439.0 984.5L1439.7 978.5L1440.5 976.4L1441.3 982.7L1442.1 997.6L1442.9 1013.8L1443.7 1024.7L1444.5 1024.5L1445.2 1012.0L1446.0 994.5L1446.8 979.9L1447.2 976.0M1448.0 979.0L1448.4 983.6L1449.2 989.5L1450.0 982.3L1450.8 966.8L1451.5 950.9L1452.3 941.6L1453.1 944.8L1453.9 956.8L1454.7 969.0L1455.5 973.0L1456.3 968.1L1457.0 962.6L1457.8 963.1L1458.6 972.6L1459.4 983.5L1460.2 986.2L1461.0 973.8L1461.8 950.6L1462.6 922.6L1463.3 896.3L1464.1 877.3L1464.9 871.0L1465.7 877.9L1466.5 893.3L1467.3 912.7L1468.1 932.2L1468.8 947.5L1469.6 954.6L1470.4 953.1L1471.2 948.9L1472.0 943.2L1472.8 936.9L1473.6 931.5L1474.3 931.5L1475.1 937.6L1475.9 944.9L1476.7 947.6L1477.5 940.3L1478.3 924.9L1479.1 906.0L1479.9 888.8L1480.6 879.0L1481.4 881.4L1482.2 894.0L1483.0 912.4L1483.8 931.0L1484.6 944.2L1485.4 947.3L1486.1 938.9L1486.9 925.6L1487.7 915.2L1488.5 914.5L1489.3 922.9L1490.1 933.9L1490.9 941.9L1491.6 941.9L1492.4 933.2L1493.2 922.9L1494.0 918.0L1494.8 920.5L1495.6 926.4L1496.4 933.5L1497.2 940.1L1497.9 944.5L1498.7 944.9L1499.5 937.2L1500.3 923.7L1501.1 910.0L1501.9 901.5L1502.7 903.8L1503.4 914.1L1504.2 919.1L1505.0 912.2L1505.8 900.2L1506.6 891.1L1507.4 893.4L1508.2 911.6L1509.0 936.7L1509.7 957.6L1510.5 963.3L1511.3 953.8L1512.1 939.1L1512.9 928.2L1513.7 927.8L1514.5 934.1L1515.2 940.4L1516.0 940.0L1516.8 932.5L1517.6 921.3L1518.4 910.7L1519.2 905.3L1520.0 907.7L1520.7 912.6L1521.5 919.4L1522.3 926.8L1523.1 933.1L1523.9 937.4L1524.7 942.0L1525.5 947.7L1526.3 954.1L1527.0 962.3L1527.8 972.4L1528.6 979.6L1529.4 977.8L1530.2 963.3L1531.0 945.1L1531.8 933.7L1532.5 938.5L1533.3 956.8L1534.1 977.6L1534.9 989.9L1535.7 983.9L1536.5 962.4L1537.3 938.5L1538.0 925.3L1538.8 929.3L1539.6 940.9L1540.4 950.8L1541.2 950.6L1542.0 942.6L1542.8 934.7L1543.6 934.7L1544.3 946.0L1545.1 960.9L1545.9 969.6L1546.7 964.8L1547.5 950.3L1548.3 933.2L1549.1 920.5L1549.8 918.9L1550.6 927.9L1551.4 943.4L1552.2 961.5L1553.0 978.2L1553.8 989.8L1554.6 992.8L1555.3 987.7L1556.1 978.4L1556.9 968.9L1557.7 962.9L1558.5 963.9L1559.3 971.3L1560.1 981.2L1560.9 990.8L1561.6 997.7L1562.4 999.3L1563.2 993.1L1564.0 981.5L1564.8 964.0L1565.6 945.5L1566.4 928.7L1567.1 917.1L1567.9 914.5L1568.7 922.8L1569.5 935.9L1570.3 946.5L1571.1 947.1L1571.9 936.4L1572.7 919.6L1573.4 902.3L1574.2 888.4L1575.0 882.6L1575.8 889.0L1576.6 903.6L1577.4 920.2L1578.2 932.7L1578.9 934.5L1579.7 926.5L1580.5 915.8L1581.3 906.2L1582.1 901.9L1582.9 903.7L1583.7 908.9L1584.4 914.6L1585.2 917.4L1586.0 916.5L1586.8 912.3L1587.6 905.9L1588.4 898.9L1589.2 893.3L1590.0 890.9L1590.7 891.0L1591.5 892.0L1592.3 892.9L1593.1 892.9L1593.9 892.0L1594.7 891.2L1595.5 895.1L1596.2 908.3L1597.0 923.6L1597.8 933.4L1598.6 930.9L1599.4 918.0L1600.2 901.2L1601.0 887.4L1601.7 881.7L1602.5 878.7L1603.3 875.9L1604.1 872.8L1604.9 869.7L1605.7 867.7L1606.5 874.8L1607.3 894.5L1608.0 917.4L1608.8 933.8L1609.6 934.0L1610.4 917.3L1611.2 894.8L1612.0 878.3L1612.8 877.4L1613.5 886.1L1614.3 896.3L1615.1 900.1L1615.9 895.1L1616.7 888.0L1617.5 884.3L1618.3 890.0L1619.1 901.0L1619.8 911.0L1620.6 913.4L1621.4 905.3L1622.2 890.9L1623.0 875.5L1623.8 864.9L1624.6 864.4L1625.3 873.0L1626.1 887.3L1626.9 902.7L1627.7 914.4L1628.5 917.4L1629.3 907.3L1630.1 890.9L1630.8 877.1L1631.6 874.7L1632.4 884.7L1633.2 899.9L1634.0 913.6L1634.8 919.7L1635.6 918.5L1636.4 915.3L1637.1 911.5L1637.9 908.1L1638.7 905.8L1639.5 905.0L1640.3 904.8L1641.1 904.4L1641.9 904.2L1642.6 904.1L1643.4 904.2L1644.2 904.5L1645.0 905.4L1645.8 908.5L1646.6 913.4L1647.4 919.2L1648.1 924.9L1648.9 929.4L1649.7 930.8L1650.5 923.2L1651.3 909.1L1652.1 893.7L1652.9 882.1L1653.7 878.5L1654.4 883.4L1655.2 889.0L1656.0 887.4L1656.8 880.4L1657.6 873.0L1658.4 870.1L1659.2 877.7L1659.9 891.1L1660.7 902.7L1661.5 905.1L1662.3 893.6L1663.1 875.2L1663.9 858.5L1664.7 851.4L1665.5 858.6L1666.2 870.5L1667.0 876.0L1667.8 872.5L1668.6 866.1L1669.4 864.0L1670.2 872.2L1671.0 887.4L1671.7 903.7L1672.5 915.0L1673.3 916.1L1674.1 909.3L1674.9 899.0L1675.7 889.0L1676.5 882.5L1677.2 880.0L1678.0 877.3L1678.8 874.2L1679.6 871.2L1680.4 871.0L1681.2 880.6L1682.0 895.2L1682.8 908.6L1683.5 913.9L1684.3 906.9L1685.1 893.4L1685.9 881.8L1686.7 880.3L1687.5 888.5L1688.3 898.7L1689.0 903.3L1689.8 900.1L1690.6 893.5L1691.4 887.7L1692.2 887.8L1693.0 896.2L1693.8 909.6L1694.5 924.2L1695.3 936.1L1696.1 940.5L1696.9 930.8L1697.7 911.3L1698.5 890.0L1699.3 874.6L1700.1 872.8L1700.8 887.5L1701.6 909.3L1702.4 927.2L1703.2 930.6L1704.0 916.3L1704.8 895.3L1705.6 879.7L1706.3 879.4L1707.1 889.6L1707.9 904.3L1708.7 917.7L1709.5 926.2L1710.3 925.4L1711.1 913.7L1711.9 895.9L1712.6 877.9L1713.4 865.3L1714.2 863.6L1715.0 873.9L1715.8 888.8L1716.6 903.8L1717.4 909.5L1718.1 904.2L1718.9 891.9L1719.7 876.4L1720.5 861.7L1721.3 851.9L1722.1 855.2L1722.9 875.3L1723.6 901.5L1724.4 922.4L1725.2 926.9L1726.0 917.4L1726.8 903.3L1727.6 890.1L1728.4 883.0L1729.2 884.1L1729.9 886.2L1730.7 887.8L1731.5 888.9L1732.3 890.2L1733.1 892.3L1733.9 903.9L1734.7 920.5L1735.4 929.6L1736.2 922.9L1737.0 906.2L1737.8 886.7L1738.6 872.6L1739.4 871.7L1740.2 884.6L1740.9 903.1L1741.7 918.3L1742.5 922.3L1743.3 919.1L1744.1 914.9L1744.9 911.6L1745.7 910.3L1746.5 911.1L1747.2 913.2L1748.0 914.1L1748.8 913.7L1749.6 912.4L1750.4 909.8L1751.2 902.9L1752.0 895.8L1752.7 893.0L1753.5 895.6L1754.3 899.8L1755.1 901.4L1755.9 899.0L1756.7 895.7L1757.5 893.3L1758.3 898.3L1759.0 912.8L1759.8 926.0L1760.6 927.1L1761.4 917.7L1762.2 905.6L1763.0 896.5L1763.8 895.7L1764.5 907.1L1765.3 920.4L1766.1 924.0L1766.9 920.3L1767.7 915.1L1768.5 911.4L1769.3 911.9L1770.0 918.8L1770.8 926.9L1771.6 929.2L1772.4 920.5L1773.2 906.2L1774.0 893.1L1774.8 888.4L1775.6 894.5L1776.3 903.7L1777.1 907.9L1777.9 904.2L1778.7 895.4L1779.5 885.5L1780.3 878.5L1781.1 877.5L1781.8 881.1L1782.6 887.2L1783.4 894.2L1784.2 900.7L1785.0 905.5L1785.8 907.4L1786.6 905.8L1787.3 901.6L1788.1 896.1L1788.9 890.1L1789.7 884.8L1790.5 881.5L1791.3 881.1L1792.1 883.0L1792.9 886.1L1793.6 889.6L1794.4 893.0L1795.2 896.2L1796.0 899.4L1796.8 901.8L1797.6 902.9L1798.4 903.0L1799.1 902.4L1799.9 902.9L1800.7 916.2L1801.5 936.6L1802.3 951.8L1803.1 952.0L1803.9 944.2L1804.7 932.0L1805.4 918.7L1806.2 908.0L1807.0 904.2L1807.8 911.4L1808.6 928.2L1809.4 946.2L1810.2 956.5L1810.9 950.3L1811.7 930.1L1812.5 907.4L1813.3 893.9L1814.1 896.2L1814.9 905.8L1815.7 915.7L1816.4 919.3L1817.2 914.9L1818.0 907.3L1818.8 901.0L1819.6 900.2L1820.4 905.4L1821.2 913.5L1822.0 921.2L1822.7 925.7L1823.5 925.0L1824.3 919.6L1825.1 912.7L1825.9 907.1L1826.7 905.2L1827.5 910.6L1828.2 920.0L1829.0 926.9L1829.8 924.8L1830.6 914.4L1831.4 901.6L1832.2 892.1L1833.0 890.9L1833.7 893.3L1834.5 896.1L1835.3 898.8L1836.1 901.2L1836.9 902.9L1837.7 902.9L1838.5 898.9L1839.3 893.9L1840.0 891.7L1840.8 895.0L1841.6 899.9L1842.4 905.5L1843.2 910.1L1844.0 905.4L1844.8 894.4L1845.5 883.1L1846.3 878.0L1847.1 882.3L1847.9 890.2L1848.7 897.5L1849.5 900.2L1850.3 899.4L1851.0 899.3L1851.8 896.7L1852.6 893.3L1853.4 889.0L1854.2 881.1L1855.0 863.3L1855.8 842.5L1856.6 826.2L1857.3 822.0L1858.1 838.6L1858.9 866.3L1859.7 890.2L1860.5 898.0L1861.3 899.3L1862.1 899.6L1862.8 900.7L1863.6 913.3L1864.4 928.7L1865.2 933.7L1866.0 922.5L1866.8 904.2L1867.6 887.8L1868.4 881.6L1869.1 886.5L1869.9 894.9L1870.7 898.9L1871.5 895.6L1872.3 889.9L1873.1 885.5L1873.9 885.7L1874.6 894.0L1875.4 906.5L1876.2 918.7L1877.0 925.6L1877.8 923.9L1878.6 916.9L1879.4 905.9L1880.1 892.3L1880.9 878.4L1881.7 867.5L1882.5 864.0L1883.3 870.7L1884.1 881.1L1884.9 887.5L1885.7 886.8L1886.4 885.7L1887.2 885.4L1888.0 886.7L1888.8 890.3L1889.6 896.5L1890.4 903.0L1891.2 908.1L1891.9 910.9L1892.7 912.7L1893.5 914.1L1894.3 915.0L1895.1 914.9L1895.9 911.6L1896.7 905.7L1897.4 899.7L1898.2 896.1L1899.0 896.8L1899.8 899.9L1900.6 902.5L1901.4 901.7L1902.2 896.3L1903.0 888.1L1903.7 879.3L1904.5 872.3L1905.3 868.5L1906.1 866.1L1906.9 865.1L1907.7 865.1L1908.5 865.1L1909.2 868.4L1910.0 879.0L1910.8 888.0L1911.6 888.5L1912.4 888.0L1913.2 889.1L1914.0 891.3L1914.8 893.8L1915.5 898.4L1916.3 904.0L1917.1 908.5L1917.9 910.5L1918.7 910.4L1919.5 909.7L1920.3 908.9L1921.0 908.5L1921.8 910.2L1922.6 918.2L1923.4 930.9L1924.2 945.4L1925.0 958.4L1925.8 966.0L1926.5 964.5L1927.3 953.4L1928.1 936.3L1928.9 916.5L1929.7 897.8L1930.5 883.7L1931.3 877.5L1932.1 883.4L1932.8 898.5L1933.6 915.9L1934.4 928.7L1935.2 931.1L1936.0 928.5L1936.8 925.3L1937.6 924.7L1938.3 926.1L1939.1 927.3L1939.9 926.2L1940.7 919.0L1941.5 909.5L1942.3 902.3L1943.1 901.9L1943.8 906.6L1944.6 911.4L1945.4 911.7L1946.2 910.0L1947.0 909.7L1947.8 910.3L1948.6 914.7L1949.4 924.7L1950.1 934.2L1950.9 938.4L1951.7 941.2L1952.5 944.6L1953.3 948.7L1954.1 953.0L1954.9 955.8L1955.6 955.8L1956.4 950.6L1957.2 941.0L1958.0 933.0L1958.8 931.5L1959.6 938.6L1960.4 949.4L1961.2 959.2L1961.9 964.0L1962.7 961.1L1963.5 954.3L1964.3 947.3L1965.1 943.6L1965.9 943.1L1966.7 941.6L1967.4 939.4L1968.2 937.2L1969.0 935.7L1969.8 935.8L1970.6 944.4L1971.4 958.7L1972.2 973.1L1972.9 982.4L1973.7 983.7L1974.5 981.5L1975.3 977.3L1976.1 972.3L1976.9 967.6L1977.7 965.0L1978.5 966.2L1979.2 970.5L1980.0 976.0L1980.8 980.6L1981.6 982.3L1982.4 981.3L1983.2 978.4L1984.0 974.6L1984.7 970.5L1985.5 966.9L1986.3 964.4L1987.1 963.8L1987.9 965.6L1988.7 970.4L1989.5 983.6L1990.2 1001.9L1991.0 1019.2L1991.8 1029.7L1992.6 1028.5L1993.4 1019.7L1994.2 1010.2L1995.0 1004.8L1995.8 1002.9L1996.5 1001.2L1997.3 1000.6L1998.1 1002.1L1998.5 1004.1" stroke="#44aa44" fill="none" stroke-width="4" stroke-linejoin="round" stroke-linecap="butt"/>
<path d="M118.1 221.7H131.5M118.1 391.3H131.5M118.1 561.0H131.5M118.1 730.6H131.5M118.1 900.2H131.5M118.1 1069.8H131.5M118.1 1239.5H131.5M131.5 1307.5V1320.9M275.0 1307.5V1320.9M418.9 1307.5V1320.9M562.5 1307.5V1320.9M706.0 1307.5V1320.9M849.5 1307.5V1320.9M993.4 1307.5V1320.9M1137.0 1307.5V1320.9M1280.5 1307.5V1320.9M1424.0 1307.5V1320.9M1567.9 1307.5V1320.9M1711.5 1307.5V1320.9M1855.0 1307.5V1320.9M1998.5 1307.5V1320.9" stroke="#a3a3a3" stroke-width="2.9" fill="none"/>
<g font-size="40.7" fill="#000" text-anchor="end">
<text x="104.1" y="236.2">200</text>
<text x="104.1" y="405.8">150</text>
<text x="104.1" y="575.5">100</text>
<text x="104.1" y="745.1">50</text>
<text x="104.1" y="914.7">0</text>
<text x="104.1" y="1084.3">-50</text>
<text x="104.1" y="1254.0">-100</text>
</g>
<g font-size="41" fill="#000" text-anchor="middle">
<text x="203.3" y="1363.8">2011</text>
<text x="347.0" y="1363.8">2012</text>
<text x="490.7" y="1363.8">2013</text>
<text x="634.2" y="1363.8">2014</text>
<text x="777.8" y="1363.8">2015</text>
<text x="921.5" y="1363.8">2016</text>
<text x="1065.2" y="1363.8">2017</text>
<text x="1208.7" y="1363.8">2018</text>
<text x="1352.2" y="1363.8">2019</text>
<text x="1496.0" y="1363.8">2020</text>
<text x="1639.7" y="1363.8">2021</text>
<text x="1783.2" y="1363.8">2022</text>
<text x="1926.7" y="1363.8">2023</text>
</g>
<g font-size="42.65">
<text x="171.9" y="491.8" fill="#aa0000">Actual deaths</text>
<text x="171.2" y="568.6" fill="#889944">Excess deaths using seasonality-adjusted linear trend fitted against data from 2018-2019</text>
<text x="171.2" y="645.6" fill="#44aa44">Excess deaths using seasonality-adjusted linear trend fitted against data from 2021-2022</text>
</g>
<g font-size="41.35" fill="#222">
<text x="1590.9" y="1075.1">Excess deaths look</text>
<text x="1590.9" y="1124.6">flat in 2021-2022</text>
<text x="1590.9" y="1174.2">when the trend was</text>
<text x="1590.9" y="1223.8">fitted against data</text>
<text x="1590.9" y="1273.3">from 2021-2022</text>
</g>
<path d="M1773.4 1040.6L1769.8 968" stroke="#222" stroke-width="4" fill="none"/>
<path d="M1768.6 946.8L1761 970.4L1779.1 969.2Z" fill="#000" stroke="#222" stroke-width="4" stroke-linejoin="miter" stroke-miterlimit="10"/>
<g font-size="41.88" fill="#000">
<text x="131.9" y="1424.6">Data from wonder.cdc.gov/mcd.html. Weekly data from 2018-2023 and monthly data from</text>
<text x="131.9" y="1469.9">1999-2017 was interpolated to daily data. Multiple causes of death that potentially involve</text>
<text x="131.9" y="1515.2">sudden cardiac death consist of I45 (Other conduction disorders), I46 (Cardiac arrest),</text>
<text x="131.9" y="1560.5">I47 (Paroxysmal tachycardia), I48 (Atrial fibrillation and flutter), I49 (Other cardiac</text>
<text x="131.9" y="1605.8">arrhythmias), I50 (Heart failure), I51 (Complications and ill-defined descriptions of heart</text>
<text x="131.9" y="1651.1">disease), ROO (Abnormalities of heart beat), R01 (Cardiac murmurs and other cardiac sounds),</text>
<text x="131.9" y="1696.4">R09.2 (Respiratory arrest), and R09.8 (Other specified symptoms and signs involving the</text>
<text x="131.9" y="1741.7">circulatory and respiratory systems).</text>
<text x="131.9" y="1832.3">The trend was calculated by first doing linear regression for daily data, then calculating</text>
<text x="131.9" y="1877.6">the average difference to the trend for each 365 or 366 days of the year, then taking a 21-day</text>
<text x="131.9" y="1922.9">centered moving average of the vector for daily differences, and then adding the difference to</text>
<text x="131.9" y="1968.2">the trend on the corresponding day of each year.</text>
</g>
</svg>
</body></html>
